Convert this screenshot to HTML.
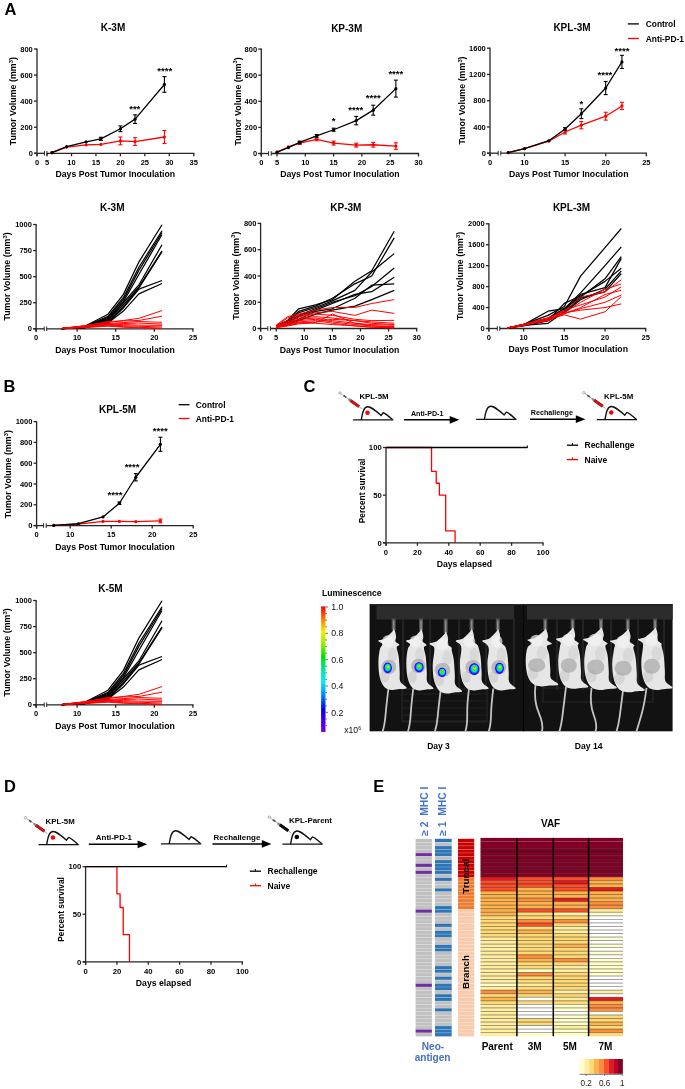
<!DOCTYPE html>
<html><head><meta charset="utf-8"><style>
html,body{margin:0;padding:0;background:#fff;width:685px;height:1089px;overflow:hidden}
svg{display:block;will-change:transform;filter:blur(0.3px)}
</style></head><body>
<svg width="685" height="1089" viewBox="0 0 685 1089" font-family='"Liberation Sans", sans-serif' font-weight="bold">
<rect width="685" height="1089" fill="#fff"/>
<text x="4.60" y="15.40" font-size="16.5">A</text>
<text x="3.40" y="392.30" font-size="16.5">B</text>
<text x="303.40" y="392.30" font-size="16.5">C</text>
<text x="4.00" y="792.20" font-size="16.5">D</text>
<text x="373.20" y="791.60" font-size="16.5">E</text>
<line x1="37.00" y1="48.40" x2="37.00" y2="156.30" stroke="#262626" stroke-width="1.3"/>
<line x1="34.00" y1="153.30" x2="37.00" y2="153.30" stroke="#262626" stroke-width="1.3"/>
<text x="32.80" y="155.90" font-size="7.5" text-anchor="end">0</text>
<line x1="34.00" y1="127.23" x2="37.00" y2="127.23" stroke="#262626" stroke-width="1.3"/>
<text x="32.80" y="129.83" font-size="7.5" text-anchor="end">200</text>
<line x1="34.00" y1="101.15" x2="37.00" y2="101.15" stroke="#262626" stroke-width="1.3"/>
<text x="32.80" y="103.75" font-size="7.5" text-anchor="end">400</text>
<line x1="34.00" y1="75.08" x2="37.00" y2="75.08" stroke="#262626" stroke-width="1.3"/>
<text x="32.80" y="77.67" font-size="7.5" text-anchor="end">600</text>
<line x1="34.00" y1="49.00" x2="37.00" y2="49.00" stroke="#262626" stroke-width="1.3"/>
<text x="32.80" y="51.60" font-size="7.5" text-anchor="end">800</text>
<line x1="34.00" y1="153.30" x2="44.40" y2="153.30" stroke="#262626" stroke-width="1.3"/>
<line x1="46.90" y1="153.30" x2="194.35" y2="153.30" stroke="#262626" stroke-width="1.3"/>
<line x1="44.40" y1="151.00" x2="44.40" y2="155.60" stroke="#262626" stroke-width="1.0"/>
<line x1="46.90" y1="151.00" x2="46.90" y2="155.60" stroke="#262626" stroke-width="1.0"/>
<line x1="37.00" y1="153.30" x2="37.00" y2="156.30" stroke="#262626" stroke-width="1.3"/>
<text x="37.00" y="164.60" font-size="7.5" text-anchor="middle">0</text>
<line x1="47.05" y1="153.30" x2="47.05" y2="156.30" stroke="#262626" stroke-width="1.3"/>
<text x="47.05" y="164.60" font-size="7.5" text-anchor="middle">5</text>
<line x1="71.50" y1="153.30" x2="71.50" y2="156.30" stroke="#262626" stroke-width="1.3"/>
<text x="71.50" y="164.60" font-size="7.5" text-anchor="middle">10</text>
<line x1="95.95" y1="153.30" x2="95.95" y2="156.30" stroke="#262626" stroke-width="1.3"/>
<text x="95.95" y="164.60" font-size="7.5" text-anchor="middle">15</text>
<line x1="120.40" y1="153.30" x2="120.40" y2="156.30" stroke="#262626" stroke-width="1.3"/>
<text x="120.40" y="164.60" font-size="7.5" text-anchor="middle">20</text>
<line x1="144.85" y1="153.30" x2="144.85" y2="156.30" stroke="#262626" stroke-width="1.3"/>
<text x="144.85" y="164.60" font-size="7.5" text-anchor="middle">25</text>
<line x1="169.30" y1="153.30" x2="169.30" y2="156.30" stroke="#262626" stroke-width="1.3"/>
<text x="169.30" y="164.60" font-size="7.5" text-anchor="middle">30</text>
<line x1="193.75" y1="153.30" x2="193.75" y2="156.30" stroke="#262626" stroke-width="1.3"/>
<text x="193.75" y="164.60" font-size="7.5" text-anchor="middle">35</text>
<text x="113.00" y="31.00" font-size="10" text-anchor="middle">K-3M</text>
<text x="115.30" y="177.10" font-size="8.7" text-anchor="middle">Days Post Tumor Inoculation</text>
<text x="16.20" y="101.20" font-size="8.9" text-anchor="middle" transform="rotate(-90 16.20 101.20)">Tumor Volume (mm<tspan font-size="5.79" dy="-3.2">3</tspan><tspan dy="3.2">)</tspan></text>
<polyline points="51.94,152.65 66.61,147.04 86.17,144.83 100.84,144.43 120.40,140.91 135.07,141.57 164.41,137.00" fill="none" stroke="#ff0000" stroke-width="1.3" stroke-linejoin="round"/>
<circle cx="51.94" cy="152.65" r="1.6" fill="#ff0000"/>
<circle cx="66.61" cy="147.04" r="1.6" fill="#ff0000"/>
<circle cx="86.17" cy="144.83" r="1.6" fill="#ff0000"/>
<circle cx="100.84" cy="144.43" r="1.6" fill="#ff0000"/>
<line x1="120.40" y1="137.00" x2="120.40" y2="144.83" stroke="#ff0000" stroke-width="1.1"/>
<line x1="118.40" y1="137.00" x2="122.40" y2="137.00" stroke="#ff0000" stroke-width="1.1"/>
<line x1="118.40" y1="144.83" x2="122.40" y2="144.83" stroke="#ff0000" stroke-width="1.1"/>
<circle cx="120.40" cy="140.91" r="1.6" fill="#ff0000"/>
<line x1="135.07" y1="137.66" x2="135.07" y2="145.48" stroke="#ff0000" stroke-width="1.1"/>
<line x1="133.07" y1="137.66" x2="137.07" y2="137.66" stroke="#ff0000" stroke-width="1.1"/>
<line x1="133.07" y1="145.48" x2="137.07" y2="145.48" stroke="#ff0000" stroke-width="1.1"/>
<circle cx="135.07" cy="141.57" r="1.6" fill="#ff0000"/>
<line x1="164.41" y1="130.48" x2="164.41" y2="143.52" stroke="#ff0000" stroke-width="1.1"/>
<line x1="162.41" y1="130.48" x2="166.41" y2="130.48" stroke="#ff0000" stroke-width="1.1"/>
<line x1="162.41" y1="143.52" x2="166.41" y2="143.52" stroke="#ff0000" stroke-width="1.1"/>
<circle cx="164.41" cy="137.00" r="1.6" fill="#ff0000"/>
<polyline points="51.94,152.65 66.61,146.65 86.17,141.83 100.84,138.83 120.40,128.79 135.07,119.14 164.41,84.46" fill="none" stroke="#000" stroke-width="1.3" stroke-linejoin="round"/>
<circle cx="51.94" cy="152.65" r="1.6" fill="#000"/>
<circle cx="66.61" cy="146.65" r="1.6" fill="#000"/>
<circle cx="86.17" cy="141.83" r="1.6" fill="#000"/>
<line x1="100.84" y1="137.26" x2="100.84" y2="140.39" stroke="#000" stroke-width="1.1"/>
<line x1="98.84" y1="137.26" x2="102.84" y2="137.26" stroke="#000" stroke-width="1.1"/>
<line x1="98.84" y1="140.39" x2="102.84" y2="140.39" stroke="#000" stroke-width="1.1"/>
<circle cx="100.84" cy="138.83" r="1.6" fill="#000"/>
<line x1="120.40" y1="125.92" x2="120.40" y2="131.66" stroke="#000" stroke-width="1.1"/>
<line x1="118.40" y1="125.92" x2="122.40" y2="125.92" stroke="#000" stroke-width="1.1"/>
<line x1="118.40" y1="131.66" x2="122.40" y2="131.66" stroke="#000" stroke-width="1.1"/>
<circle cx="120.40" cy="128.79" r="1.6" fill="#000"/>
<line x1="135.07" y1="114.84" x2="135.07" y2="123.44" stroke="#000" stroke-width="1.1"/>
<line x1="133.07" y1="114.84" x2="137.07" y2="114.84" stroke="#000" stroke-width="1.1"/>
<line x1="133.07" y1="123.44" x2="137.07" y2="123.44" stroke="#000" stroke-width="1.1"/>
<circle cx="135.07" cy="119.14" r="1.6" fill="#000"/>
<line x1="164.41" y1="76.64" x2="164.41" y2="92.28" stroke="#000" stroke-width="1.1"/>
<line x1="162.41" y1="76.64" x2="166.41" y2="76.64" stroke="#000" stroke-width="1.1"/>
<line x1="162.41" y1="92.28" x2="166.41" y2="92.28" stroke="#000" stroke-width="1.1"/>
<circle cx="164.41" cy="84.46" r="1.6" fill="#000"/>
<text x="134.77" y="111.90" font-size="9.6" text-anchor="middle">***</text>
<text x="164.71" y="73.50" font-size="9.6" text-anchor="middle">****</text>
<line x1="261.30" y1="48.50" x2="261.30" y2="156.50" stroke="#262626" stroke-width="1.3"/>
<line x1="258.30" y1="153.50" x2="261.30" y2="153.50" stroke="#262626" stroke-width="1.3"/>
<text x="257.10" y="156.10" font-size="7.5" text-anchor="end">0</text>
<line x1="258.30" y1="127.40" x2="261.30" y2="127.40" stroke="#262626" stroke-width="1.3"/>
<text x="257.10" y="130.00" font-size="7.5" text-anchor="end">200</text>
<line x1="258.30" y1="101.30" x2="261.30" y2="101.30" stroke="#262626" stroke-width="1.3"/>
<text x="257.10" y="103.90" font-size="7.5" text-anchor="end">400</text>
<line x1="258.30" y1="75.20" x2="261.30" y2="75.20" stroke="#262626" stroke-width="1.3"/>
<text x="257.10" y="77.80" font-size="7.5" text-anchor="end">600</text>
<line x1="258.30" y1="49.10" x2="261.30" y2="49.10" stroke="#262626" stroke-width="1.3"/>
<text x="257.10" y="51.70" font-size="7.5" text-anchor="end">800</text>
<line x1="258.30" y1="153.50" x2="268.60" y2="153.50" stroke="#262626" stroke-width="1.3"/>
<line x1="271.20" y1="153.50" x2="419.10" y2="153.50" stroke="#262626" stroke-width="1.3"/>
<line x1="268.60" y1="151.20" x2="268.60" y2="155.80" stroke="#262626" stroke-width="1.0"/>
<line x1="271.20" y1="151.20" x2="271.20" y2="155.80" stroke="#262626" stroke-width="1.0"/>
<line x1="261.30" y1="153.50" x2="261.30" y2="156.50" stroke="#262626" stroke-width="1.3"/>
<text x="261.30" y="164.80" font-size="7.5" text-anchor="middle">0</text>
<line x1="277.00" y1="153.50" x2="277.00" y2="156.50" stroke="#262626" stroke-width="1.3"/>
<text x="277.00" y="164.80" font-size="7.5" text-anchor="middle">5</text>
<line x1="305.30" y1="153.50" x2="305.30" y2="156.50" stroke="#262626" stroke-width="1.3"/>
<text x="305.30" y="164.80" font-size="7.5" text-anchor="middle">10</text>
<line x1="333.60" y1="153.50" x2="333.60" y2="156.50" stroke="#262626" stroke-width="1.3"/>
<text x="333.60" y="164.80" font-size="7.5" text-anchor="middle">15</text>
<line x1="361.90" y1="153.50" x2="361.90" y2="156.50" stroke="#262626" stroke-width="1.3"/>
<text x="361.90" y="164.80" font-size="7.5" text-anchor="middle">20</text>
<line x1="390.20" y1="153.50" x2="390.20" y2="156.50" stroke="#262626" stroke-width="1.3"/>
<text x="390.20" y="164.80" font-size="7.5" text-anchor="middle">25</text>
<line x1="418.50" y1="153.50" x2="418.50" y2="156.50" stroke="#262626" stroke-width="1.3"/>
<text x="418.50" y="164.80" font-size="7.5" text-anchor="middle">30</text>
<text x="346.70" y="31.70" font-size="10" text-anchor="middle">KP-3M</text>
<text x="339.90" y="177.30" font-size="8.7" text-anchor="middle">Days Post Tumor Inoculation</text>
<text x="240.60" y="101.30" font-size="8.9" text-anchor="middle" transform="rotate(-90 240.60 101.30)">Tumor Volume (mm<tspan font-size="5.79" dy="-3.2">3</tspan><tspan dy="3.2">)</tspan></text>
<polyline points="277.00,152.19 288.32,146.97 299.64,143.06 316.62,139.41 333.60,143.06 356.24,145.15 373.22,144.76 395.86,146.06" fill="none" stroke="#ff0000" stroke-width="1.3" stroke-linejoin="round"/>
<circle cx="277.00" cy="152.19" r="1.6" fill="#ff0000"/>
<circle cx="288.32" cy="146.97" r="1.6" fill="#ff0000"/>
<line x1="299.64" y1="141.75" x2="299.64" y2="144.37" stroke="#ff0000" stroke-width="1.1"/>
<line x1="297.64" y1="141.75" x2="301.64" y2="141.75" stroke="#ff0000" stroke-width="1.1"/>
<line x1="297.64" y1="144.37" x2="301.64" y2="144.37" stroke="#ff0000" stroke-width="1.1"/>
<circle cx="299.64" cy="143.06" r="1.6" fill="#ff0000"/>
<line x1="316.62" y1="138.10" x2="316.62" y2="140.71" stroke="#ff0000" stroke-width="1.1"/>
<line x1="314.62" y1="138.10" x2="318.62" y2="138.10" stroke="#ff0000" stroke-width="1.1"/>
<line x1="314.62" y1="140.71" x2="318.62" y2="140.71" stroke="#ff0000" stroke-width="1.1"/>
<circle cx="316.62" cy="139.41" r="1.6" fill="#ff0000"/>
<line x1="333.60" y1="141.10" x2="333.60" y2="145.02" stroke="#ff0000" stroke-width="1.1"/>
<line x1="331.60" y1="141.10" x2="335.60" y2="141.10" stroke="#ff0000" stroke-width="1.1"/>
<line x1="331.60" y1="145.02" x2="335.60" y2="145.02" stroke="#ff0000" stroke-width="1.1"/>
<circle cx="333.60" cy="143.06" r="1.6" fill="#ff0000"/>
<line x1="356.24" y1="143.19" x2="356.24" y2="147.11" stroke="#ff0000" stroke-width="1.1"/>
<line x1="354.24" y1="143.19" x2="358.24" y2="143.19" stroke="#ff0000" stroke-width="1.1"/>
<line x1="354.24" y1="147.11" x2="358.24" y2="147.11" stroke="#ff0000" stroke-width="1.1"/>
<circle cx="356.24" cy="145.15" r="1.6" fill="#ff0000"/>
<line x1="373.22" y1="142.41" x2="373.22" y2="147.11" stroke="#ff0000" stroke-width="1.1"/>
<line x1="371.22" y1="142.41" x2="375.22" y2="142.41" stroke="#ff0000" stroke-width="1.1"/>
<line x1="371.22" y1="147.11" x2="375.22" y2="147.11" stroke="#ff0000" stroke-width="1.1"/>
<circle cx="373.22" cy="144.76" r="1.6" fill="#ff0000"/>
<line x1="395.86" y1="142.80" x2="395.86" y2="149.32" stroke="#ff0000" stroke-width="1.1"/>
<line x1="393.86" y1="142.80" x2="397.86" y2="142.80" stroke="#ff0000" stroke-width="1.1"/>
<line x1="393.86" y1="149.32" x2="397.86" y2="149.32" stroke="#ff0000" stroke-width="1.1"/>
<circle cx="395.86" cy="146.06" r="1.6" fill="#ff0000"/>
<polyline points="277.00,152.19 288.32,147.63 299.64,142.41 316.62,135.88 333.60,129.75 356.24,120.61 373.22,110.17 395.86,88.64" fill="none" stroke="#000" stroke-width="1.3" stroke-linejoin="round"/>
<circle cx="277.00" cy="152.19" r="1.6" fill="#000"/>
<circle cx="288.32" cy="147.63" r="1.6" fill="#000"/>
<line x1="299.64" y1="141.10" x2="299.64" y2="143.71" stroke="#000" stroke-width="1.1"/>
<line x1="297.64" y1="141.10" x2="301.64" y2="141.10" stroke="#000" stroke-width="1.1"/>
<line x1="297.64" y1="143.71" x2="301.64" y2="143.71" stroke="#000" stroke-width="1.1"/>
<circle cx="299.64" cy="142.41" r="1.6" fill="#000"/>
<line x1="316.62" y1="134.58" x2="316.62" y2="137.19" stroke="#000" stroke-width="1.1"/>
<line x1="314.62" y1="134.58" x2="318.62" y2="134.58" stroke="#000" stroke-width="1.1"/>
<line x1="314.62" y1="137.19" x2="318.62" y2="137.19" stroke="#000" stroke-width="1.1"/>
<circle cx="316.62" cy="135.88" r="1.6" fill="#000"/>
<line x1="333.60" y1="128.18" x2="333.60" y2="131.31" stroke="#000" stroke-width="1.1"/>
<line x1="331.60" y1="128.18" x2="335.60" y2="128.18" stroke="#000" stroke-width="1.1"/>
<line x1="331.60" y1="131.31" x2="335.60" y2="131.31" stroke="#000" stroke-width="1.1"/>
<circle cx="333.60" cy="129.75" r="1.6" fill="#000"/>
<line x1="356.24" y1="116.44" x2="356.24" y2="124.79" stroke="#000" stroke-width="1.1"/>
<line x1="354.24" y1="116.44" x2="358.24" y2="116.44" stroke="#000" stroke-width="1.1"/>
<line x1="354.24" y1="124.79" x2="358.24" y2="124.79" stroke="#000" stroke-width="1.1"/>
<circle cx="356.24" cy="120.61" r="1.6" fill="#000"/>
<line x1="373.22" y1="105.22" x2="373.22" y2="115.13" stroke="#000" stroke-width="1.1"/>
<line x1="371.22" y1="105.22" x2="375.22" y2="105.22" stroke="#000" stroke-width="1.1"/>
<line x1="371.22" y1="115.13" x2="375.22" y2="115.13" stroke="#000" stroke-width="1.1"/>
<circle cx="373.22" cy="110.17" r="1.6" fill="#000"/>
<line x1="395.86" y1="80.16" x2="395.86" y2="97.12" stroke="#000" stroke-width="1.1"/>
<line x1="393.86" y1="80.16" x2="397.86" y2="80.16" stroke="#000" stroke-width="1.1"/>
<line x1="393.86" y1="97.12" x2="397.86" y2="97.12" stroke="#000" stroke-width="1.1"/>
<circle cx="395.86" cy="88.64" r="1.6" fill="#000"/>
<text x="333.60" y="124.30" font-size="9.6" text-anchor="middle">*</text>
<text x="355.84" y="113.20" font-size="9.6" text-anchor="middle">****</text>
<text x="373.22" y="101.10" font-size="9.6" text-anchor="middle">****</text>
<text x="395.86" y="76.60" font-size="9.6" text-anchor="middle">****</text>
<line x1="490.00" y1="47.60" x2="490.00" y2="156.20" stroke="#262626" stroke-width="1.3"/>
<line x1="487.00" y1="153.20" x2="490.00" y2="153.20" stroke="#262626" stroke-width="1.3"/>
<text x="485.80" y="155.80" font-size="7.5" text-anchor="end">0</text>
<line x1="487.00" y1="126.95" x2="490.00" y2="126.95" stroke="#262626" stroke-width="1.3"/>
<text x="485.80" y="129.55" font-size="7.5" text-anchor="end">400</text>
<line x1="487.00" y1="100.70" x2="490.00" y2="100.70" stroke="#262626" stroke-width="1.3"/>
<text x="485.80" y="103.30" font-size="7.5" text-anchor="end">800</text>
<line x1="487.00" y1="74.45" x2="490.00" y2="74.45" stroke="#262626" stroke-width="1.3"/>
<text x="485.80" y="77.05" font-size="7.5" text-anchor="end">1200</text>
<line x1="487.00" y1="48.20" x2="490.00" y2="48.20" stroke="#262626" stroke-width="1.3"/>
<text x="485.80" y="50.80" font-size="7.5" text-anchor="end">1600</text>
<line x1="487.00" y1="153.20" x2="498.20" y2="153.20" stroke="#262626" stroke-width="1.3"/>
<line x1="500.80" y1="153.20" x2="646.90" y2="153.20" stroke="#262626" stroke-width="1.3"/>
<line x1="498.20" y1="150.90" x2="498.20" y2="155.50" stroke="#262626" stroke-width="1.0"/>
<line x1="500.80" y1="150.90" x2="500.80" y2="155.50" stroke="#262626" stroke-width="1.0"/>
<line x1="490.00" y1="153.20" x2="490.00" y2="156.20" stroke="#262626" stroke-width="1.3"/>
<text x="490.00" y="164.50" font-size="7.5" text-anchor="middle">0</text>
<line x1="524.50" y1="153.20" x2="524.50" y2="156.20" stroke="#262626" stroke-width="1.3"/>
<text x="524.50" y="164.50" font-size="7.5" text-anchor="middle">10</text>
<line x1="565.10" y1="153.20" x2="565.10" y2="156.20" stroke="#262626" stroke-width="1.3"/>
<text x="565.10" y="164.50" font-size="7.5" text-anchor="middle">15</text>
<line x1="605.70" y1="153.20" x2="605.70" y2="156.20" stroke="#262626" stroke-width="1.3"/>
<text x="605.70" y="164.50" font-size="7.5" text-anchor="middle">20</text>
<line x1="646.30" y1="153.20" x2="646.30" y2="156.20" stroke="#262626" stroke-width="1.3"/>
<text x="646.30" y="164.50" font-size="7.5" text-anchor="middle">25</text>
<text x="572.00" y="31.30" font-size="10" text-anchor="middle">KPL-3M</text>
<text x="568.70" y="177.10" font-size="8.7" text-anchor="middle">Days Post Tumor Inoculation</text>
<text x="464.80" y="100.50" font-size="8.9" text-anchor="middle" transform="rotate(-90 464.80 100.50)">Tumor Volume (mm<tspan font-size="5.79" dy="-3.2">3</tspan><tspan dy="3.2">)</tspan></text>
<polyline points="508.26,152.54 524.50,148.74 548.86,141.06 565.10,132.00 581.34,125.18 605.70,116.19 621.94,105.95" fill="none" stroke="#ff0000" stroke-width="1.3" stroke-linejoin="round"/>
<circle cx="508.26" cy="152.54" r="1.6" fill="#ff0000"/>
<circle cx="524.50" cy="148.74" r="1.6" fill="#ff0000"/>
<circle cx="548.86" cy="141.06" r="1.6" fill="#ff0000"/>
<line x1="565.10" y1="130.03" x2="565.10" y2="133.97" stroke="#ff0000" stroke-width="1.1"/>
<line x1="563.10" y1="130.03" x2="567.10" y2="130.03" stroke="#ff0000" stroke-width="1.1"/>
<line x1="563.10" y1="133.97" x2="567.10" y2="133.97" stroke="#ff0000" stroke-width="1.1"/>
<circle cx="565.10" cy="132.00" r="1.6" fill="#ff0000"/>
<line x1="581.34" y1="121.57" x2="581.34" y2="128.79" stroke="#ff0000" stroke-width="1.1"/>
<line x1="579.34" y1="121.57" x2="583.34" y2="121.57" stroke="#ff0000" stroke-width="1.1"/>
<line x1="579.34" y1="128.79" x2="583.34" y2="128.79" stroke="#ff0000" stroke-width="1.1"/>
<circle cx="581.34" cy="125.18" r="1.6" fill="#ff0000"/>
<line x1="605.70" y1="112.25" x2="605.70" y2="120.12" stroke="#ff0000" stroke-width="1.1"/>
<line x1="603.70" y1="112.25" x2="607.70" y2="112.25" stroke="#ff0000" stroke-width="1.1"/>
<line x1="603.70" y1="120.12" x2="607.70" y2="120.12" stroke="#ff0000" stroke-width="1.1"/>
<circle cx="605.70" cy="116.19" r="1.6" fill="#ff0000"/>
<line x1="621.94" y1="102.34" x2="621.94" y2="109.56" stroke="#ff0000" stroke-width="1.1"/>
<line x1="619.94" y1="102.34" x2="623.94" y2="102.34" stroke="#ff0000" stroke-width="1.1"/>
<line x1="619.94" y1="109.56" x2="623.94" y2="109.56" stroke="#ff0000" stroke-width="1.1"/>
<circle cx="621.94" cy="105.95" r="1.6" fill="#ff0000"/>
<polyline points="508.26,152.54 524.50,148.61 548.86,140.73 565.10,128.98 581.34,113.69 605.70,88.03 621.94,61.92" fill="none" stroke="#000" stroke-width="1.3" stroke-linejoin="round"/>
<circle cx="508.26" cy="152.54" r="1.6" fill="#000"/>
<circle cx="524.50" cy="148.61" r="1.6" fill="#000"/>
<circle cx="548.86" cy="140.73" r="1.6" fill="#000"/>
<line x1="565.10" y1="127.67" x2="565.10" y2="130.30" stroke="#000" stroke-width="1.1"/>
<line x1="563.10" y1="127.67" x2="567.10" y2="127.67" stroke="#000" stroke-width="1.1"/>
<line x1="563.10" y1="130.30" x2="567.10" y2="130.30" stroke="#000" stroke-width="1.1"/>
<circle cx="565.10" cy="128.98" r="1.6" fill="#000"/>
<line x1="581.34" y1="108.77" x2="581.34" y2="118.62" stroke="#000" stroke-width="1.1"/>
<line x1="579.34" y1="108.77" x2="583.34" y2="108.77" stroke="#000" stroke-width="1.1"/>
<line x1="579.34" y1="118.62" x2="583.34" y2="118.62" stroke="#000" stroke-width="1.1"/>
<circle cx="581.34" cy="113.69" r="1.6" fill="#000"/>
<line x1="605.70" y1="81.47" x2="605.70" y2="94.60" stroke="#000" stroke-width="1.1"/>
<line x1="603.70" y1="81.47" x2="607.70" y2="81.47" stroke="#000" stroke-width="1.1"/>
<line x1="603.70" y1="94.60" x2="607.70" y2="94.60" stroke="#000" stroke-width="1.1"/>
<circle cx="605.70" cy="88.03" r="1.6" fill="#000"/>
<line x1="621.94" y1="55.35" x2="621.94" y2="68.48" stroke="#000" stroke-width="1.1"/>
<line x1="619.94" y1="55.35" x2="623.94" y2="55.35" stroke="#000" stroke-width="1.1"/>
<line x1="619.94" y1="68.48" x2="623.94" y2="68.48" stroke="#000" stroke-width="1.1"/>
<circle cx="621.94" cy="61.92" r="1.6" fill="#000"/>
<text x="581.34" y="106.90" font-size="9.6" text-anchor="middle">*</text>
<text x="604.90" y="77.90" font-size="9.6" text-anchor="middle">****</text>
<text x="621.94" y="53.70" font-size="9.6" text-anchor="middle">****</text>
<line x1="627.80" y1="23.90" x2="638.90" y2="23.90" stroke="#000" stroke-width="1.3"/>
<text x="645.80" y="27.30" font-size="8.4">Control</text>
<line x1="627.80" y1="38.50" x2="638.90" y2="38.50" stroke="#ff0000" stroke-width="1.3"/>
<text x="645.80" y="41.90" font-size="8.4">Anti-PD-1</text>
<line x1="36.10" y1="223.90" x2="36.10" y2="331.80" stroke="#262626" stroke-width="1.3"/>
<line x1="33.10" y1="328.80" x2="36.10" y2="328.80" stroke="#262626" stroke-width="1.3"/>
<text x="31.90" y="331.40" font-size="7.5" text-anchor="end">0</text>
<line x1="33.10" y1="302.73" x2="36.10" y2="302.73" stroke="#262626" stroke-width="1.3"/>
<text x="31.90" y="305.33" font-size="7.5" text-anchor="end">250</text>
<line x1="33.10" y1="276.65" x2="36.10" y2="276.65" stroke="#262626" stroke-width="1.3"/>
<text x="31.90" y="279.25" font-size="7.5" text-anchor="end">500</text>
<line x1="33.10" y1="250.57" x2="36.10" y2="250.57" stroke="#262626" stroke-width="1.3"/>
<text x="31.90" y="253.17" font-size="7.5" text-anchor="end">750</text>
<line x1="33.10" y1="224.50" x2="36.10" y2="224.50" stroke="#262626" stroke-width="1.3"/>
<text x="31.90" y="227.10" font-size="7.5" text-anchor="end">1000</text>
<line x1="33.10" y1="328.80" x2="44.20" y2="328.80" stroke="#262626" stroke-width="1.3"/>
<line x1="46.70" y1="328.80" x2="193.50" y2="328.80" stroke="#262626" stroke-width="1.3"/>
<line x1="44.20" y1="326.50" x2="44.20" y2="331.10" stroke="#262626" stroke-width="1.0"/>
<line x1="46.70" y1="326.50" x2="46.70" y2="331.10" stroke="#262626" stroke-width="1.0"/>
<line x1="36.10" y1="328.80" x2="36.10" y2="331.80" stroke="#262626" stroke-width="1.3"/>
<text x="36.10" y="340.10" font-size="7.5" text-anchor="middle">0</text>
<line x1="77.10" y1="328.80" x2="77.10" y2="331.80" stroke="#262626" stroke-width="1.3"/>
<text x="77.10" y="340.10" font-size="7.5" text-anchor="middle">10</text>
<line x1="115.70" y1="328.80" x2="115.70" y2="331.80" stroke="#262626" stroke-width="1.3"/>
<text x="115.70" y="340.10" font-size="7.5" text-anchor="middle">15</text>
<line x1="154.30" y1="328.80" x2="154.30" y2="331.80" stroke="#262626" stroke-width="1.3"/>
<text x="154.30" y="340.10" font-size="7.5" text-anchor="middle">20</text>
<line x1="192.90" y1="328.80" x2="192.90" y2="331.80" stroke="#262626" stroke-width="1.3"/>
<text x="192.90" y="340.10" font-size="7.5" text-anchor="middle">25</text>
<text x="112.30" y="210.60" font-size="10" text-anchor="middle">K-3M</text>
<text x="115.00" y="352.90" font-size="8.7" text-anchor="middle">Days Post Tumor Inoculation</text>
<text x="10.20" y="276.50" font-size="8.9" text-anchor="middle" transform="rotate(-90 10.20 276.50)">Tumor Volume (mm<tspan font-size="5.79" dy="-3.2">3</tspan><tspan dy="3.2">)</tspan></text>
<polyline points="61.66,328.59 84.82,326.19 107.98,314.20 123.42,294.38 138.86,262.05 162.02,224.71" fill="none" stroke="#000" stroke-width="1.25" stroke-linejoin="round"/>
<polyline points="61.66,328.59 84.82,326.51 107.98,316.28 123.42,297.51 138.86,267.26 162.02,230.76" fill="none" stroke="#000" stroke-width="1.25" stroke-linejoin="round"/>
<polyline points="61.66,328.70 84.82,326.71 107.98,317.33 123.42,299.60 138.86,270.39 162.02,232.53" fill="none" stroke="#000" stroke-width="1.25" stroke-linejoin="round"/>
<polyline points="61.66,328.70 84.82,326.92 107.98,318.37 123.42,301.68 138.86,274.56 162.02,234.51" fill="none" stroke="#000" stroke-width="1.25" stroke-linejoin="round"/>
<polyline points="61.66,328.70 84.82,327.24 107.98,319.41 123.42,302.73 138.86,284.99 162.02,244.73" fill="none" stroke="#000" stroke-width="1.25" stroke-linejoin="round"/>
<polyline points="61.66,328.70 84.82,327.24 107.98,320.46 123.42,304.81 138.86,287.08 162.02,250.89" fill="none" stroke="#000" stroke-width="1.25" stroke-linejoin="round"/>
<polyline points="61.66,328.70 84.82,327.55 107.98,321.50 123.42,306.90 138.86,288.12 162.02,251.62" fill="none" stroke="#000" stroke-width="1.25" stroke-linejoin="round"/>
<polyline points="61.66,328.70 84.82,327.55 107.98,322.54 123.42,307.94 138.86,289.17 162.02,280.51" fill="none" stroke="#000" stroke-width="1.25" stroke-linejoin="round"/>
<polyline points="61.66,328.70 84.82,327.76 107.98,323.06 123.42,311.07 138.86,293.86 162.02,283.53" fill="none" stroke="#000" stroke-width="1.25" stroke-linejoin="round"/>
<polyline points="61.66,328.49 84.82,325.67 107.98,322.54 123.42,320.46 138.86,318.37 162.02,310.55" fill="none" stroke="#ff0000" stroke-width="1.0" stroke-linejoin="round"/>
<polyline points="61.66,328.49 84.82,325.88 107.98,321.50 123.42,320.98 138.86,320.46 162.02,316.18" fill="none" stroke="#ff0000" stroke-width="1.0" stroke-linejoin="round"/>
<polyline points="61.66,328.59 84.82,326.19 107.98,323.59 123.42,322.54 138.86,321.50 162.02,322.33" fill="none" stroke="#ff0000" stroke-width="1.0" stroke-linejoin="round"/>
<polyline points="61.66,328.59 84.82,326.51 107.98,324.11 123.42,323.59 138.86,323.06 162.02,324.11" fill="none" stroke="#ff0000" stroke-width="1.0" stroke-linejoin="round"/>
<polyline points="61.66,328.59 84.82,326.71 107.98,324.63 123.42,324.63 138.86,325.15 162.02,325.36" fill="none" stroke="#ff0000" stroke-width="1.0" stroke-linejoin="round"/>
<polyline points="61.66,328.59 84.82,326.92 107.98,325.15 123.42,325.67 138.86,326.19 162.02,327.03" fill="none" stroke="#ff0000" stroke-width="1.0" stroke-linejoin="round"/>
<polyline points="61.66,328.70 84.82,327.24 107.98,325.67 123.42,326.71 138.86,327.24 162.02,328.28" fill="none" stroke="#ff0000" stroke-width="1.0" stroke-linejoin="round"/>
<polyline points="61.66,328.70 84.82,327.55 107.98,326.19 123.42,327.24 138.86,327.76 162.02,328.49" fill="none" stroke="#ff0000" stroke-width="1.0" stroke-linejoin="round"/>
<line x1="36.10" y1="599.90" x2="36.10" y2="707.80" stroke="#262626" stroke-width="1.3"/>
<line x1="33.10" y1="704.80" x2="36.10" y2="704.80" stroke="#262626" stroke-width="1.3"/>
<text x="31.90" y="707.40" font-size="7.5" text-anchor="end">0</text>
<line x1="33.10" y1="678.72" x2="36.10" y2="678.72" stroke="#262626" stroke-width="1.3"/>
<text x="31.90" y="681.32" font-size="7.5" text-anchor="end">250</text>
<line x1="33.10" y1="652.65" x2="36.10" y2="652.65" stroke="#262626" stroke-width="1.3"/>
<text x="31.90" y="655.25" font-size="7.5" text-anchor="end">500</text>
<line x1="33.10" y1="626.58" x2="36.10" y2="626.58" stroke="#262626" stroke-width="1.3"/>
<text x="31.90" y="629.18" font-size="7.5" text-anchor="end">750</text>
<line x1="33.10" y1="600.50" x2="36.10" y2="600.50" stroke="#262626" stroke-width="1.3"/>
<text x="31.90" y="603.10" font-size="7.5" text-anchor="end">1000</text>
<line x1="33.10" y1="704.80" x2="44.20" y2="704.80" stroke="#262626" stroke-width="1.3"/>
<line x1="46.70" y1="704.80" x2="193.50" y2="704.80" stroke="#262626" stroke-width="1.3"/>
<line x1="44.20" y1="702.50" x2="44.20" y2="707.10" stroke="#262626" stroke-width="1.0"/>
<line x1="46.70" y1="702.50" x2="46.70" y2="707.10" stroke="#262626" stroke-width="1.0"/>
<line x1="36.10" y1="704.80" x2="36.10" y2="707.80" stroke="#262626" stroke-width="1.3"/>
<text x="36.10" y="716.10" font-size="7.5" text-anchor="middle">0</text>
<line x1="77.10" y1="704.80" x2="77.10" y2="707.80" stroke="#262626" stroke-width="1.3"/>
<text x="77.10" y="716.10" font-size="7.5" text-anchor="middle">10</text>
<line x1="115.70" y1="704.80" x2="115.70" y2="707.80" stroke="#262626" stroke-width="1.3"/>
<text x="115.70" y="716.10" font-size="7.5" text-anchor="middle">15</text>
<line x1="154.30" y1="704.80" x2="154.30" y2="707.80" stroke="#262626" stroke-width="1.3"/>
<text x="154.30" y="716.10" font-size="7.5" text-anchor="middle">20</text>
<line x1="192.90" y1="704.80" x2="192.90" y2="707.80" stroke="#262626" stroke-width="1.3"/>
<text x="192.90" y="716.10" font-size="7.5" text-anchor="middle">25</text>
<text x="110.40" y="591.80" font-size="10" text-anchor="middle">K-5M</text>
<text x="115.00" y="728.90" font-size="8.7" text-anchor="middle">Days Post Tumor Inoculation</text>
<text x="10.20" y="652.50" font-size="8.9" text-anchor="middle" transform="rotate(-90 10.20 652.50)">Tumor Volume (mm<tspan font-size="5.79" dy="-3.2">3</tspan><tspan dy="3.2">)</tspan></text>
<polyline points="61.66,704.59 84.82,702.19 107.98,690.20 123.42,670.38 138.86,638.05 162.02,600.71" fill="none" stroke="#000" stroke-width="1.25" stroke-linejoin="round"/>
<polyline points="61.66,704.59 84.82,702.51 107.98,692.28 123.42,673.51 138.86,643.26 162.02,606.76" fill="none" stroke="#000" stroke-width="1.25" stroke-linejoin="round"/>
<polyline points="61.66,704.70 84.82,702.71 107.98,693.33 123.42,675.60 138.86,646.39 162.02,608.53" fill="none" stroke="#000" stroke-width="1.25" stroke-linejoin="round"/>
<polyline points="61.66,704.70 84.82,702.92 107.98,694.37 123.42,677.68 138.86,650.56 162.02,610.51" fill="none" stroke="#000" stroke-width="1.25" stroke-linejoin="round"/>
<polyline points="61.66,704.70 84.82,703.24 107.98,695.41 123.42,678.72 138.86,660.99 162.02,620.73" fill="none" stroke="#000" stroke-width="1.25" stroke-linejoin="round"/>
<polyline points="61.66,704.70 84.82,703.24 107.98,696.46 123.42,680.81 138.86,663.08 162.02,626.89" fill="none" stroke="#000" stroke-width="1.25" stroke-linejoin="round"/>
<polyline points="61.66,704.70 84.82,703.55 107.98,697.50 123.42,682.90 138.86,664.12 162.02,627.62" fill="none" stroke="#000" stroke-width="1.25" stroke-linejoin="round"/>
<polyline points="61.66,704.70 84.82,703.55 107.98,698.54 123.42,683.94 138.86,665.17 162.02,656.51" fill="none" stroke="#000" stroke-width="1.25" stroke-linejoin="round"/>
<polyline points="61.66,704.70 84.82,703.76 107.98,699.06 123.42,687.07 138.86,669.86 162.02,659.53" fill="none" stroke="#000" stroke-width="1.25" stroke-linejoin="round"/>
<polyline points="61.66,704.49 84.82,701.67 107.98,698.54 123.42,696.46 138.86,694.37 162.02,686.55" fill="none" stroke="#ff0000" stroke-width="1.0" stroke-linejoin="round"/>
<polyline points="61.66,704.49 84.82,701.88 107.98,697.50 123.42,696.98 138.86,696.46 162.02,692.18" fill="none" stroke="#ff0000" stroke-width="1.0" stroke-linejoin="round"/>
<polyline points="61.66,704.59 84.82,702.19 107.98,699.58 123.42,698.54 138.86,697.50 162.02,698.33" fill="none" stroke="#ff0000" stroke-width="1.0" stroke-linejoin="round"/>
<polyline points="61.66,704.59 84.82,702.51 107.98,700.11 123.42,699.58 138.86,699.06 162.02,700.11" fill="none" stroke="#ff0000" stroke-width="1.0" stroke-linejoin="round"/>
<polyline points="61.66,704.59 84.82,702.71 107.98,700.63 123.42,700.63 138.86,701.15 162.02,701.36" fill="none" stroke="#ff0000" stroke-width="1.0" stroke-linejoin="round"/>
<polyline points="61.66,704.59 84.82,702.92 107.98,701.15 123.42,701.67 138.86,702.19 162.02,703.03" fill="none" stroke="#ff0000" stroke-width="1.0" stroke-linejoin="round"/>
<polyline points="61.66,704.70 84.82,703.24 107.98,701.67 123.42,702.71 138.86,703.24 162.02,704.28" fill="none" stroke="#ff0000" stroke-width="1.0" stroke-linejoin="round"/>
<polyline points="61.66,704.70 84.82,703.55 107.98,702.19 123.42,703.24 138.86,703.76 162.02,704.49" fill="none" stroke="#ff0000" stroke-width="1.0" stroke-linejoin="round"/>
<line x1="260.60" y1="222.80" x2="260.60" y2="331.50" stroke="#262626" stroke-width="1.3"/>
<line x1="257.60" y1="328.50" x2="260.60" y2="328.50" stroke="#262626" stroke-width="1.3"/>
<text x="256.40" y="331.10" font-size="7.5" text-anchor="end">0</text>
<line x1="257.60" y1="302.23" x2="260.60" y2="302.23" stroke="#262626" stroke-width="1.3"/>
<text x="256.40" y="304.83" font-size="7.5" text-anchor="end">200</text>
<line x1="257.60" y1="275.95" x2="260.60" y2="275.95" stroke="#262626" stroke-width="1.3"/>
<text x="256.40" y="278.55" font-size="7.5" text-anchor="end">400</text>
<line x1="257.60" y1="249.68" x2="260.60" y2="249.68" stroke="#262626" stroke-width="1.3"/>
<text x="256.40" y="252.28" font-size="7.5" text-anchor="end">600</text>
<line x1="257.60" y1="223.40" x2="260.60" y2="223.40" stroke="#262626" stroke-width="1.3"/>
<text x="256.40" y="226.00" font-size="7.5" text-anchor="end">800</text>
<line x1="257.60" y1="328.50" x2="267.80" y2="328.50" stroke="#262626" stroke-width="1.3"/>
<line x1="270.40" y1="328.50" x2="417.30" y2="328.50" stroke="#262626" stroke-width="1.3"/>
<line x1="267.80" y1="326.20" x2="267.80" y2="330.80" stroke="#262626" stroke-width="1.0"/>
<line x1="270.40" y1="326.20" x2="270.40" y2="330.80" stroke="#262626" stroke-width="1.0"/>
<line x1="260.60" y1="328.50" x2="260.60" y2="331.50" stroke="#262626" stroke-width="1.3"/>
<text x="260.60" y="339.80" font-size="7.5" text-anchor="middle">0</text>
<line x1="276.20" y1="328.50" x2="276.20" y2="331.50" stroke="#262626" stroke-width="1.3"/>
<text x="276.20" y="339.80" font-size="7.5" text-anchor="middle">5</text>
<line x1="304.30" y1="328.50" x2="304.30" y2="331.50" stroke="#262626" stroke-width="1.3"/>
<text x="304.30" y="339.80" font-size="7.5" text-anchor="middle">10</text>
<line x1="332.40" y1="328.50" x2="332.40" y2="331.50" stroke="#262626" stroke-width="1.3"/>
<text x="332.40" y="339.80" font-size="7.5" text-anchor="middle">15</text>
<line x1="360.50" y1="328.50" x2="360.50" y2="331.50" stroke="#262626" stroke-width="1.3"/>
<text x="360.50" y="339.80" font-size="7.5" text-anchor="middle">20</text>
<line x1="388.60" y1="328.50" x2="388.60" y2="331.50" stroke="#262626" stroke-width="1.3"/>
<text x="388.60" y="339.80" font-size="7.5" text-anchor="middle">25</text>
<line x1="416.70" y1="328.50" x2="416.70" y2="331.50" stroke="#262626" stroke-width="1.3"/>
<text x="416.70" y="339.80" font-size="7.5" text-anchor="middle">30</text>
<text x="345.80" y="211.20" font-size="10" text-anchor="middle">KP-3M</text>
<text x="339.50" y="353.10" font-size="8.7" text-anchor="middle">Days Post Tumor Inoculation</text>
<text x="238.70" y="275.70" font-size="8.9" text-anchor="middle" transform="rotate(-90 238.70 275.70)">Tumor Volume (mm<tspan font-size="5.79" dy="-3.2">3</tspan><tspan dy="3.2">)</tspan></text>
<polyline points="276.20,325.87 287.44,320.62 298.68,308.79 315.54,304.85 332.40,299.60 354.88,281.20 371.74,270.69 394.22,231.28" fill="none" stroke="#000" stroke-width="1.25" stroke-linejoin="round"/>
<polyline points="276.20,325.87 287.44,321.27 298.68,311.42 315.54,306.17 332.40,298.28 354.88,283.83 371.74,275.95 394.22,237.85" fill="none" stroke="#000" stroke-width="1.25" stroke-linejoin="round"/>
<polyline points="276.20,326.14 287.44,321.93 298.68,312.74 315.54,307.48 332.40,300.91 354.88,290.40 371.74,272.01 394.22,253.62" fill="none" stroke="#000" stroke-width="1.25" stroke-linejoin="round"/>
<polyline points="276.20,326.53 287.44,322.59 298.68,315.36 315.54,308.79 332.40,302.23 354.88,295.66 371.74,286.46 394.22,268.07" fill="none" stroke="#000" stroke-width="1.25" stroke-linejoin="round"/>
<polyline points="276.20,326.53 287.44,323.25 298.68,316.68 315.54,310.11 332.40,303.54 354.88,294.34 371.74,291.72 394.22,277.26" fill="none" stroke="#000" stroke-width="1.25" stroke-linejoin="round"/>
<polyline points="276.20,326.92 287.44,323.90 298.68,319.30 315.54,311.42 332.40,308.79 354.88,298.28 371.74,285.15 394.22,283.83" fill="none" stroke="#000" stroke-width="1.25" stroke-linejoin="round"/>
<polyline points="276.20,327.19 287.44,324.56 298.68,320.62 315.54,314.05 332.40,310.11 354.88,306.17 371.74,299.60 394.22,290.40" fill="none" stroke="#000" stroke-width="1.25" stroke-linejoin="round"/>
<polyline points="276.20,325.22 287.44,316.68 298.68,314.05 315.54,310.11 332.40,307.48 354.88,307.48 371.74,303.54 394.22,299.60" fill="none" stroke="#ff0000" stroke-width="1.0" stroke-linejoin="round"/>
<polyline points="276.20,325.87 287.44,317.99 298.68,315.36 315.54,312.74 332.40,311.42 354.88,315.36 371.74,310.11 394.22,313.39" fill="none" stroke="#ff0000" stroke-width="1.0" stroke-linejoin="round"/>
<polyline points="276.20,325.87 287.44,320.62 298.68,316.68 315.54,314.05 332.40,315.36 354.88,319.30 371.74,320.62 394.22,320.35" fill="none" stroke="#ff0000" stroke-width="1.0" stroke-linejoin="round"/>
<polyline points="276.20,326.53 287.44,321.93 298.68,317.99 315.54,316.68 332.40,317.99 354.88,320.62 371.74,321.93 394.22,323.25" fill="none" stroke="#ff0000" stroke-width="1.0" stroke-linejoin="round"/>
<polyline points="276.20,326.53 287.44,323.25 298.68,319.30 315.54,317.99 332.40,320.62 354.88,323.25 371.74,324.56 394.22,325.22" fill="none" stroke="#ff0000" stroke-width="1.0" stroke-linejoin="round"/>
<polyline points="276.20,326.92 287.44,323.90 298.68,320.62 315.54,319.30 332.40,321.93 354.88,324.56 371.74,325.87 394.22,327.19" fill="none" stroke="#ff0000" stroke-width="1.0" stroke-linejoin="round"/>
<polyline points="276.20,327.19 287.44,324.56 298.68,321.93 315.54,320.62 332.40,323.25 354.88,325.87 371.74,327.19 394.22,327.84" fill="none" stroke="#ff0000" stroke-width="1.0" stroke-linejoin="round"/>
<polyline points="276.20,327.19 287.44,325.22 298.68,322.59 315.54,323.25 332.40,324.56 354.88,325.87 371.74,327.19 394.22,327.84" fill="none" stroke="#ff0000" stroke-width="1.0" stroke-linejoin="round"/>
<polyline points="276.20,327.45 287.44,325.87 298.68,323.25 315.54,321.93 332.40,319.30 354.88,320.62 371.74,323.25 394.22,324.56" fill="none" stroke="#ff0000" stroke-width="1.0" stroke-linejoin="round"/>
<polyline points="276.20,327.45 287.44,325.87 298.68,323.90 315.54,322.59 332.40,314.05 354.88,323.25 371.74,325.87 394.22,326.53" fill="none" stroke="#ff0000" stroke-width="1.0" stroke-linejoin="round"/>
<line x1="488.90" y1="223.20" x2="488.90" y2="331.50" stroke="#262626" stroke-width="1.3"/>
<line x1="485.90" y1="328.50" x2="488.90" y2="328.50" stroke="#262626" stroke-width="1.3"/>
<text x="484.70" y="331.10" font-size="7.5" text-anchor="end">0</text>
<line x1="485.90" y1="307.56" x2="488.90" y2="307.56" stroke="#262626" stroke-width="1.3"/>
<text x="484.70" y="310.16" font-size="7.5" text-anchor="end">400</text>
<line x1="485.90" y1="286.62" x2="488.90" y2="286.62" stroke="#262626" stroke-width="1.3"/>
<text x="484.70" y="289.22" font-size="7.5" text-anchor="end">800</text>
<line x1="485.90" y1="265.68" x2="488.90" y2="265.68" stroke="#262626" stroke-width="1.3"/>
<text x="484.70" y="268.28" font-size="7.5" text-anchor="end">1200</text>
<line x1="485.90" y1="244.74" x2="488.90" y2="244.74" stroke="#262626" stroke-width="1.3"/>
<text x="484.70" y="247.34" font-size="7.5" text-anchor="end">1600</text>
<line x1="485.90" y1="223.80" x2="488.90" y2="223.80" stroke="#262626" stroke-width="1.3"/>
<text x="484.70" y="226.40" font-size="7.5" text-anchor="end">2000</text>
<line x1="485.90" y1="328.50" x2="497.30" y2="328.50" stroke="#262626" stroke-width="1.3"/>
<line x1="499.80" y1="328.50" x2="646.30" y2="328.50" stroke="#262626" stroke-width="1.3"/>
<line x1="497.30" y1="326.20" x2="497.30" y2="330.80" stroke="#262626" stroke-width="1.0"/>
<line x1="499.80" y1="326.20" x2="499.80" y2="330.80" stroke="#262626" stroke-width="1.0"/>
<line x1="488.90" y1="328.50" x2="488.90" y2="331.50" stroke="#262626" stroke-width="1.3"/>
<text x="488.90" y="339.80" font-size="7.5" text-anchor="middle">0</text>
<line x1="523.60" y1="328.50" x2="523.60" y2="331.50" stroke="#262626" stroke-width="1.3"/>
<text x="523.60" y="339.80" font-size="7.5" text-anchor="middle">10</text>
<line x1="564.30" y1="328.50" x2="564.30" y2="331.50" stroke="#262626" stroke-width="1.3"/>
<text x="564.30" y="339.80" font-size="7.5" text-anchor="middle">15</text>
<line x1="605.00" y1="328.50" x2="605.00" y2="331.50" stroke="#262626" stroke-width="1.3"/>
<text x="605.00" y="339.80" font-size="7.5" text-anchor="middle">20</text>
<line x1="645.70" y1="328.50" x2="645.70" y2="331.50" stroke="#262626" stroke-width="1.3"/>
<text x="645.70" y="339.80" font-size="7.5" text-anchor="middle">25</text>
<text x="571.50" y="210.90" font-size="10" text-anchor="middle">KPL-3M</text>
<text x="568.20" y="351.80" font-size="8.7" text-anchor="middle">Days Post Tumor Inoculation</text>
<text x="462.90" y="276.00" font-size="8.9" text-anchor="middle" transform="rotate(-90 462.90 276.00)">Tumor Volume (mm<tspan font-size="5.79" dy="-3.2">3</tspan><tspan dy="3.2">)</tspan></text>
<polyline points="507.32,327.98 523.60,324.31 548.02,315.41 564.30,306.51 580.58,276.15 605.00,247.57 621.28,228.51" fill="none" stroke="#000" stroke-width="1.25" stroke-linejoin="round"/>
<polyline points="507.32,327.98 523.60,324.31 548.02,318.03 564.30,308.61 580.58,292.90 605.00,265.68 621.28,246.83" fill="none" stroke="#000" stroke-width="1.25" stroke-linejoin="round"/>
<polyline points="507.32,327.98 523.60,324.84 548.02,311.22 564.30,308.61 580.58,297.09 605.00,278.77 621.28,256.52" fill="none" stroke="#000" stroke-width="1.25" stroke-linejoin="round"/>
<polyline points="507.32,327.98 523.60,324.84 548.02,319.08 564.30,310.18 580.58,294.47 605.00,287.67 621.28,258.35" fill="none" stroke="#000" stroke-width="1.25" stroke-linejoin="round"/>
<polyline points="507.32,327.98 523.60,325.36 548.02,320.65 564.30,303.37 580.58,296.04 605.00,281.38 621.28,268.30" fill="none" stroke="#000" stroke-width="1.25" stroke-linejoin="round"/>
<polyline points="507.32,327.98 523.60,325.36 548.02,323.26 564.30,311.75 580.58,298.14 605.00,291.86 621.28,273.53" fill="none" stroke="#000" stroke-width="1.25" stroke-linejoin="round"/>
<polyline points="507.32,327.98 523.60,325.88 548.02,320.65 564.30,312.80 580.58,299.71 605.00,289.24 621.28,270.92" fill="none" stroke="#000" stroke-width="1.25" stroke-linejoin="round"/>
<polyline points="507.32,327.98 523.60,324.31 548.02,318.03 564.30,311.22 580.58,297.09 605.00,291.86 621.28,279.81" fill="none" stroke="#ff0000" stroke-width="1.0" stroke-linejoin="round"/>
<polyline points="507.32,327.98 523.60,324.31 548.02,318.03 564.30,312.80 580.58,302.32 605.00,289.24 621.28,284.00" fill="none" stroke="#ff0000" stroke-width="1.0" stroke-linejoin="round"/>
<polyline points="507.32,327.98 523.60,324.84 548.02,319.08 564.30,310.18 580.58,304.94 605.00,297.09 621.28,286.88" fill="none" stroke="#ff0000" stroke-width="1.0" stroke-linejoin="round"/>
<polyline points="507.32,327.98 523.60,324.84 548.02,320.65 564.30,313.84 580.58,307.56 605.00,294.47 621.28,290.28" fill="none" stroke="#ff0000" stroke-width="1.0" stroke-linejoin="round"/>
<polyline points="507.32,327.98 523.60,325.36 548.02,319.08 564.30,314.89 580.58,319.08 605.00,311.75 621.28,296.57" fill="none" stroke="#ff0000" stroke-width="1.0" stroke-linejoin="round"/>
<polyline points="507.32,327.98 523.60,325.36 548.02,318.03 564.30,312.80 580.58,310.18 605.00,307.56 621.28,303.90" fill="none" stroke="#ff0000" stroke-width="1.0" stroke-linejoin="round"/>
<polyline points="507.32,327.98 523.60,325.36 548.02,320.12 564.30,313.32 580.58,308.61 605.00,302.32 621.28,295.00" fill="none" stroke="#ff0000" stroke-width="1.0" stroke-linejoin="round"/>
<line x1="36.60" y1="421.00" x2="36.60" y2="528.60" stroke="#262626" stroke-width="1.3"/>
<line x1="33.60" y1="525.60" x2="36.60" y2="525.60" stroke="#262626" stroke-width="1.3"/>
<text x="32.40" y="528.20" font-size="7.5" text-anchor="end">0</text>
<line x1="33.60" y1="504.80" x2="36.60" y2="504.80" stroke="#262626" stroke-width="1.3"/>
<text x="32.40" y="507.40" font-size="7.5" text-anchor="end">200</text>
<line x1="33.60" y1="484.00" x2="36.60" y2="484.00" stroke="#262626" stroke-width="1.3"/>
<text x="32.40" y="486.60" font-size="7.5" text-anchor="end">400</text>
<line x1="33.60" y1="463.20" x2="36.60" y2="463.20" stroke="#262626" stroke-width="1.3"/>
<text x="32.40" y="465.80" font-size="7.5" text-anchor="end">600</text>
<line x1="33.60" y1="442.40" x2="36.60" y2="442.40" stroke="#262626" stroke-width="1.3"/>
<text x="32.40" y="445.00" font-size="7.5" text-anchor="end">800</text>
<line x1="33.60" y1="421.60" x2="36.60" y2="421.60" stroke="#262626" stroke-width="1.3"/>
<text x="32.40" y="424.20" font-size="7.5" text-anchor="end">1000</text>
<line x1="33.60" y1="525.60" x2="43.60" y2="525.60" stroke="#262626" stroke-width="1.3"/>
<line x1="46.20" y1="525.60" x2="193.80" y2="525.60" stroke="#262626" stroke-width="1.3"/>
<line x1="43.60" y1="523.30" x2="43.60" y2="527.90" stroke="#262626" stroke-width="1.0"/>
<line x1="46.20" y1="523.30" x2="46.20" y2="527.90" stroke="#262626" stroke-width="1.0"/>
<line x1="36.60" y1="525.60" x2="36.60" y2="528.60" stroke="#262626" stroke-width="1.3"/>
<text x="36.60" y="536.90" font-size="7.5" text-anchor="middle">0</text>
<line x1="70.20" y1="525.60" x2="70.20" y2="528.60" stroke="#262626" stroke-width="1.3"/>
<text x="70.20" y="536.90" font-size="7.5" text-anchor="middle">10</text>
<line x1="111.20" y1="525.60" x2="111.20" y2="528.60" stroke="#262626" stroke-width="1.3"/>
<text x="111.20" y="536.90" font-size="7.5" text-anchor="middle">15</text>
<line x1="152.20" y1="525.60" x2="152.20" y2="528.60" stroke="#262626" stroke-width="1.3"/>
<text x="152.20" y="536.90" font-size="7.5" text-anchor="middle">20</text>
<line x1="193.20" y1="525.60" x2="193.20" y2="528.60" stroke="#262626" stroke-width="1.3"/>
<text x="193.20" y="536.90" font-size="7.5" text-anchor="middle">25</text>
<text x="117.60" y="412.60" font-size="10" text-anchor="middle">KPL-5M</text>
<text x="115.00" y="549.60" font-size="8.7" text-anchor="middle">Days Post Tumor Inoculation</text>
<text x="11.30" y="474.20" font-size="8.9" text-anchor="middle" transform="rotate(-90 11.30 474.20)">Tumor Volume (mm<tspan font-size="5.79" dy="-3.2">3</tspan><tspan dy="3.2">)</tspan></text>
<polyline points="53.80,525.39 78.40,524.04 103.00,521.44 119.40,521.44 135.80,521.65 160.40,520.92" fill="none" stroke="#ff0000" stroke-width="1.3" stroke-linejoin="round"/>
<circle cx="53.80" cy="525.39" r="1.6" fill="#ff0000"/>
<circle cx="78.40" cy="524.04" r="1.6" fill="#ff0000"/>
<circle cx="103.00" cy="521.44" r="1.6" fill="#ff0000"/>
<circle cx="119.40" cy="521.44" r="1.6" fill="#ff0000"/>
<circle cx="135.80" cy="521.65" r="1.6" fill="#ff0000"/>
<line x1="160.40" y1="519.05" x2="160.40" y2="522.79" stroke="#ff0000" stroke-width="1.1"/>
<line x1="158.40" y1="519.05" x2="162.40" y2="519.05" stroke="#ff0000" stroke-width="1.1"/>
<line x1="158.40" y1="522.79" x2="162.40" y2="522.79" stroke="#ff0000" stroke-width="1.1"/>
<circle cx="160.40" cy="520.92" r="1.6" fill="#ff0000"/>
<polyline points="53.80,525.39 78.40,523.73 103.00,516.97 119.40,503.24 135.80,477.24 160.40,444.27" fill="none" stroke="#000" stroke-width="1.3" stroke-linejoin="round"/>
<circle cx="53.80" cy="525.39" r="1.6" fill="#000"/>
<circle cx="78.40" cy="523.73" r="1.6" fill="#000"/>
<circle cx="103.00" cy="516.97" r="1.6" fill="#000"/>
<line x1="119.40" y1="501.99" x2="119.40" y2="504.49" stroke="#000" stroke-width="1.1"/>
<line x1="117.40" y1="501.99" x2="121.40" y2="501.99" stroke="#000" stroke-width="1.1"/>
<line x1="117.40" y1="504.49" x2="121.40" y2="504.49" stroke="#000" stroke-width="1.1"/>
<circle cx="119.40" cy="503.24" r="1.6" fill="#000"/>
<line x1="135.80" y1="473.60" x2="135.80" y2="480.88" stroke="#000" stroke-width="1.1"/>
<line x1="133.80" y1="473.60" x2="137.80" y2="473.60" stroke="#000" stroke-width="1.1"/>
<line x1="133.80" y1="480.88" x2="137.80" y2="480.88" stroke="#000" stroke-width="1.1"/>
<circle cx="135.80" cy="477.24" r="1.6" fill="#000"/>
<line x1="160.40" y1="437.20" x2="160.40" y2="451.34" stroke="#000" stroke-width="1.1"/>
<line x1="158.40" y1="437.20" x2="162.40" y2="437.20" stroke="#000" stroke-width="1.1"/>
<line x1="158.40" y1="451.34" x2="162.40" y2="451.34" stroke="#000" stroke-width="1.1"/>
<circle cx="160.40" cy="444.27" r="1.6" fill="#000"/>
<text x="115.00" y="498.20" font-size="9.6" text-anchor="middle">****</text>
<text x="132.10" y="469.60" font-size="9.6" text-anchor="middle">****</text>
<text x="160.20" y="434.30" font-size="9.6" text-anchor="middle">****</text>
<line x1="178.70" y1="404.70" x2="189.50" y2="404.70" stroke="#000" stroke-width="1.3"/>
<text x="195.80" y="407.70" font-size="8.4">Control</text>
<line x1="178.70" y1="418.50" x2="189.50" y2="418.50" stroke="#ff0000" stroke-width="1.3"/>
<text x="195.80" y="421.50" font-size="8.4">Anti-PD-1</text>
<polyline points="386.00,447.50 431.53,447.50 431.53,471.32 436.24,471.32 436.24,483.24 439.38,483.24 439.38,495.15 445.66,495.15 445.66,530.89 455.08,530.89 455.08,542.80" fill="none" stroke="#ff0000" stroke-width="1.3" stroke-linejoin="round" stroke-linejoin="miter"/>
<line x1="386.00" y1="447.50" x2="527.30" y2="447.50" stroke="#000" stroke-width="1.3"/>
<line x1="527.30" y1="445.50" x2="527.30" y2="448.00" stroke="#000" stroke-width="1.0"/>
<line x1="386.00" y1="446.90" x2="386.00" y2="545.80" stroke="#262626" stroke-width="1.3"/>
<line x1="383.00" y1="542.80" x2="543.60" y2="542.80" stroke="#262626" stroke-width="1.3"/>
<line x1="383.00" y1="542.80" x2="386.00" y2="542.80" stroke="#262626" stroke-width="1.3"/>
<text x="381.70" y="545.50" font-size="7.7" text-anchor="end">0</text>
<line x1="383.00" y1="495.15" x2="386.00" y2="495.15" stroke="#262626" stroke-width="1.3"/>
<text x="381.70" y="497.85" font-size="7.7" text-anchor="end">50</text>
<line x1="383.00" y1="447.50" x2="386.00" y2="447.50" stroke="#262626" stroke-width="1.3"/>
<text x="381.70" y="450.20" font-size="7.7" text-anchor="end">100</text>
<line x1="386.00" y1="542.80" x2="386.00" y2="545.80" stroke="#262626" stroke-width="1.3"/>
<text x="386.00" y="554.60" font-size="7.7" text-anchor="middle">0</text>
<line x1="417.40" y1="542.80" x2="417.40" y2="545.80" stroke="#262626" stroke-width="1.3"/>
<text x="417.40" y="554.60" font-size="7.7" text-anchor="middle">20</text>
<line x1="448.80" y1="542.80" x2="448.80" y2="545.80" stroke="#262626" stroke-width="1.3"/>
<text x="448.80" y="554.60" font-size="7.7" text-anchor="middle">40</text>
<line x1="480.20" y1="542.80" x2="480.20" y2="545.80" stroke="#262626" stroke-width="1.3"/>
<text x="480.20" y="554.60" font-size="7.7" text-anchor="middle">60</text>
<line x1="511.60" y1="542.80" x2="511.60" y2="545.80" stroke="#262626" stroke-width="1.3"/>
<text x="511.60" y="554.60" font-size="7.7" text-anchor="middle">80</text>
<line x1="543.00" y1="542.80" x2="543.00" y2="545.80" stroke="#262626" stroke-width="1.3"/>
<text x="543.00" y="554.60" font-size="7.7" text-anchor="middle">100</text>
<text x="364.60" y="490.90" font-size="8.4" text-anchor="middle" transform="rotate(-90 364.6 490.9)">Percent survival</text>
<text x="464.40" y="566.60" font-size="8.7" text-anchor="middle">Days elapsed</text>
<polyline points="85.60,866.70 116.94,866.70 116.94,893.90 120.07,893.90 120.07,907.50 123.21,907.50 123.21,934.60 129.48,934.60 129.48,961.80" fill="none" stroke="#ff0000" stroke-width="1.3" stroke-linejoin="round" stroke-linejoin="miter"/>
<line x1="85.60" y1="866.70" x2="226.63" y2="866.70" stroke="#000" stroke-width="1.3"/>
<line x1="226.63" y1="864.70" x2="226.63" y2="867.20" stroke="#000" stroke-width="1.0"/>
<line x1="85.60" y1="866.10" x2="85.60" y2="964.80" stroke="#262626" stroke-width="1.3"/>
<line x1="82.60" y1="961.80" x2="242.90" y2="961.80" stroke="#262626" stroke-width="1.3"/>
<line x1="82.60" y1="961.80" x2="85.60" y2="961.80" stroke="#262626" stroke-width="1.3"/>
<text x="81.30" y="964.50" font-size="7.7" text-anchor="end">0</text>
<line x1="82.60" y1="914.25" x2="85.60" y2="914.25" stroke="#262626" stroke-width="1.3"/>
<text x="81.30" y="916.95" font-size="7.7" text-anchor="end">50</text>
<line x1="82.60" y1="866.70" x2="85.60" y2="866.70" stroke="#262626" stroke-width="1.3"/>
<text x="81.30" y="869.40" font-size="7.7" text-anchor="end">100</text>
<line x1="85.60" y1="961.80" x2="85.60" y2="964.80" stroke="#262626" stroke-width="1.3"/>
<text x="85.60" y="973.60" font-size="7.7" text-anchor="middle">0</text>
<line x1="116.94" y1="961.80" x2="116.94" y2="964.80" stroke="#262626" stroke-width="1.3"/>
<text x="116.94" y="973.60" font-size="7.7" text-anchor="middle">20</text>
<line x1="148.28" y1="961.80" x2="148.28" y2="964.80" stroke="#262626" stroke-width="1.3"/>
<text x="148.28" y="973.60" font-size="7.7" text-anchor="middle">40</text>
<line x1="179.62" y1="961.80" x2="179.62" y2="964.80" stroke="#262626" stroke-width="1.3"/>
<text x="179.62" y="973.60" font-size="7.7" text-anchor="middle">60</text>
<line x1="210.96" y1="961.80" x2="210.96" y2="964.80" stroke="#262626" stroke-width="1.3"/>
<text x="210.96" y="973.60" font-size="7.7" text-anchor="middle">80</text>
<line x1="242.30" y1="961.80" x2="242.30" y2="964.80" stroke="#262626" stroke-width="1.3"/>
<text x="242.30" y="973.60" font-size="7.7" text-anchor="middle">100</text>
<text x="64.20" y="909.40" font-size="8.4" text-anchor="middle" transform="rotate(-90 64.2 909.4)">Percent survival</text>
<text x="163.60" y="986.20" font-size="8.7" text-anchor="middle">Days elapsed</text>
<line x1="566.90" y1="445.20" x2="578.10" y2="445.20" stroke="#000" stroke-width="1.3"/>
<line x1="572.50" y1="443.00" x2="572.50" y2="445.20" stroke="#000" stroke-width="1.0"/>
<text x="584.50" y="448.40" font-size="8.5">Rechallenge</text>
<line x1="566.90" y1="459.60" x2="578.10" y2="459.60" stroke="#ff0000" stroke-width="1.3"/>
<line x1="572.50" y1="457.40" x2="572.50" y2="459.60" stroke="#ff0000" stroke-width="1.0"/>
<text x="584.50" y="462.80" font-size="8.5">Naive</text>
<line x1="249.80" y1="871.20" x2="261.00" y2="871.20" stroke="#000" stroke-width="1.3"/>
<line x1="255.40" y1="869.00" x2="255.40" y2="871.20" stroke="#000" stroke-width="1.0"/>
<text x="267.50" y="874.40" font-size="8.5">Rechallenge</text>
<line x1="249.80" y1="885.70" x2="261.00" y2="885.70" stroke="#ff0000" stroke-width="1.3"/>
<line x1="255.40" y1="883.50" x2="255.40" y2="885.70" stroke="#ff0000" stroke-width="1.0"/>
<text x="267.50" y="888.90" font-size="8.5">Naive</text>
<line x1="353.10" y1="419.90" x2="393.40" y2="419.90" stroke="#111" stroke-width="1.35"/>
<path d="M8.2,0 C9.3,-6.5 10.3,-12.6 14.4,-13.1 C17.8,-13.4 21.5,-10 28.0,-4.4 L30.1,-7.2 C31.2,-7.2 33,-6 39.4,-0.3" transform="translate(353.10,419.90)" fill="none" stroke="#111" stroke-width="1.4" stroke-linejoin="round"/>
<circle cx="367.50" cy="412.80" r="2.25" fill="#ff0000"/>
<circle cx="340.04" cy="392.95" r="1.15" fill="none" stroke="#8a8a8a" stroke-width="0.7"/>
<line x1="341.07" y1="393.69" x2="349.35" y2="399.67" stroke="#9a9a9a" stroke-width="0.9"/>
<line x1="343.60" y1="395.52" x2="346.13" y2="397.35" stroke="#555" stroke-width="1.7"/>
<line x1="348.43" y1="399.01" x2="350.50" y2="400.50" stroke="#8c8c8c" stroke-width="2.4"/>
<line x1="350.50" y1="400.50" x2="359.01" y2="406.64" stroke="#5a0a0a" stroke-width="3.0"/>
<line x1="350.50" y1="400.50" x2="359.01" y2="406.64" stroke="#e01010" stroke-width="2.2"/>
<line x1="359.01" y1="406.64" x2="362.00" y2="408.80" stroke="#8a6aa8" stroke-width="0.7"/>
<text x="359.40" y="399.20" font-size="7.85">KPL-5M</text>
<line x1="403.90" y1="419.80" x2="450.70" y2="419.80" stroke="#000" stroke-width="1.5"/>
<path d="M449.70,415.90 L459.30,419.80 L449.70,423.70 Z" fill="#000"/>
<text x="410.90" y="415.90" font-size="7.15">Anti-PD-1</text>
<line x1="476.20" y1="419.30" x2="516.50" y2="419.30" stroke="#111" stroke-width="1.35"/>
<path d="M8.2,0 C9.3,-6.5 10.3,-12.6 14.4,-13.1 C17.8,-13.4 21.5,-10 28.0,-4.4 L30.1,-7.2 C31.2,-7.2 33,-6 39.4,-0.3" transform="translate(476.20,419.30)" fill="none" stroke="#111" stroke-width="1.4" stroke-linejoin="round"/>
<line x1="530.00" y1="419.20" x2="576.80" y2="419.20" stroke="#000" stroke-width="1.5"/>
<path d="M575.80,415.30 L585.40,419.20 L575.80,423.10 Z" fill="#000"/>
<text x="530.80" y="414.80" font-size="7.15">Rechallenge</text>
<line x1="596.80" y1="419.60" x2="637.10" y2="419.60" stroke="#111" stroke-width="1.35"/>
<path d="M8.2,0 C9.3,-6.5 10.3,-12.6 14.4,-13.1 C17.8,-13.4 21.5,-10 28.0,-4.4 L30.1,-7.2 C31.2,-7.2 33,-6 39.4,-0.3" transform="translate(596.80,419.60)" fill="none" stroke="#111" stroke-width="1.4" stroke-linejoin="round"/>
<circle cx="611.20" cy="412.50" r="2.25" fill="#ff0000"/>
<circle cx="583.73" cy="392.65" r="1.15" fill="none" stroke="#8a8a8a" stroke-width="0.7"/>
<line x1="584.77" y1="393.39" x2="593.05" y2="399.37" stroke="#9a9a9a" stroke-width="0.9"/>
<line x1="587.30" y1="395.22" x2="589.83" y2="397.05" stroke="#555" stroke-width="1.7"/>
<line x1="592.13" y1="398.71" x2="594.20" y2="400.20" stroke="#8c8c8c" stroke-width="2.4"/>
<line x1="594.20" y1="400.20" x2="602.71" y2="406.34" stroke="#5a0a0a" stroke-width="3.0"/>
<line x1="594.20" y1="400.20" x2="602.71" y2="406.34" stroke="#e01010" stroke-width="2.2"/>
<line x1="602.71" y1="406.34" x2="605.70" y2="408.50" stroke="#8a6aa8" stroke-width="0.7"/>
<text x="604.00" y="398.80" font-size="7.85">KPL-5M</text>
<line x1="38.50" y1="844.60" x2="78.80" y2="844.60" stroke="#111" stroke-width="1.35"/>
<path d="M8.2,0 C9.3,-6.5 10.3,-12.6 14.4,-13.1 C17.8,-13.4 21.5,-10 28.0,-4.4 L30.1,-7.2 C31.2,-7.2 33,-6 39.4,-0.3" transform="translate(38.50,844.60)" fill="none" stroke="#111" stroke-width="1.4" stroke-linejoin="round"/>
<circle cx="52.90" cy="837.50" r="2.25" fill="#ff0000"/>
<circle cx="25.43" cy="817.65" r="1.15" fill="none" stroke="#8a8a8a" stroke-width="0.7"/>
<line x1="26.47" y1="818.39" x2="34.75" y2="824.37" stroke="#9a9a9a" stroke-width="0.9"/>
<line x1="29.00" y1="820.22" x2="31.53" y2="822.05" stroke="#555" stroke-width="1.7"/>
<line x1="33.83" y1="823.71" x2="35.90" y2="825.20" stroke="#8c8c8c" stroke-width="2.4"/>
<line x1="35.90" y1="825.20" x2="44.41" y2="831.34" stroke="#5a0a0a" stroke-width="3.0"/>
<line x1="35.90" y1="825.20" x2="44.41" y2="831.34" stroke="#e01010" stroke-width="2.2"/>
<line x1="44.41" y1="831.34" x2="47.40" y2="833.50" stroke="#8a6aa8" stroke-width="0.7"/>
<text x="45.50" y="823.80" font-size="7.85">KPL-5M</text>
<line x1="88.80" y1="844.30" x2="138.60" y2="844.30" stroke="#000" stroke-width="1.5"/>
<path d="M137.60,840.40 L147.20,844.30 L137.60,848.20 Z" fill="#000"/>
<text x="95.80" y="840.40" font-size="7.95">Anti-PD-1</text>
<line x1="161.00" y1="843.90" x2="201.30" y2="843.90" stroke="#111" stroke-width="1.35"/>
<path d="M8.2,0 C9.3,-6.5 10.3,-12.6 14.4,-13.1 C17.8,-13.4 21.5,-10 28.0,-4.4 L30.1,-7.2 C31.2,-7.2 33,-6 39.4,-0.3" transform="translate(161.00,843.90)" fill="none" stroke="#111" stroke-width="1.4" stroke-linejoin="round"/>
<line x1="212.50" y1="843.90" x2="262.80" y2="843.90" stroke="#000" stroke-width="1.5"/>
<path d="M261.80,840.00 L271.40,843.90 L261.80,847.80 Z" fill="#000"/>
<text x="213.60" y="840.00" font-size="7.95">Rechallenge</text>
<line x1="282.40" y1="844.10" x2="322.70" y2="844.10" stroke="#111" stroke-width="1.35"/>
<path d="M8.2,0 C9.3,-6.5 10.3,-12.6 14.4,-13.1 C17.8,-13.4 21.5,-10 28.0,-4.4 L30.1,-7.2 C31.2,-7.2 33,-6 39.4,-0.3" transform="translate(282.40,844.10)" fill="none" stroke="#111" stroke-width="1.4" stroke-linejoin="round"/>
<circle cx="296.80" cy="837.00" r="2.25" fill="#000"/>
<circle cx="269.33" cy="817.15" r="1.15" fill="none" stroke="#8a8a8a" stroke-width="0.7"/>
<line x1="270.37" y1="817.89" x2="278.65" y2="823.87" stroke="#9a9a9a" stroke-width="0.9"/>
<line x1="272.90" y1="819.72" x2="275.43" y2="821.55" stroke="#555" stroke-width="1.7"/>
<line x1="277.73" y1="823.21" x2="279.80" y2="824.70" stroke="#8c8c8c" stroke-width="2.4"/>
<line x1="279.80" y1="824.70" x2="288.31" y2="830.84" stroke="#000" stroke-width="3.0"/>
<line x1="279.80" y1="824.70" x2="288.31" y2="830.84" stroke="#111" stroke-width="2.2"/>
<line x1="288.31" y1="830.84" x2="291.30" y2="833.00" stroke="#8a6aa8" stroke-width="0.7"/>
<text x="289.00" y="823.40" font-size="7.9">KPL-Parent</text>
<text x="321.90" y="595.60" font-size="8.6">Luminescence</text>
<defs><linearGradient id="lum" x1="0" y1="0" x2="0" y2="1"><stop offset="0" stop-color="#ff0000"/><stop offset="0.1" stop-color="#ff7a00"/><stop offset="0.2" stop-color="#f4f000"/><stop offset="0.3" stop-color="#90f000"/><stop offset="0.4" stop-color="#00e000"/><stop offset="0.5" stop-color="#00e890"/><stop offset="0.6" stop-color="#00f0f0"/><stop offset="0.7" stop-color="#0090ff"/><stop offset="0.82" stop-color="#0000f0"/><stop offset="1" stop-color="#7a00e8"/></linearGradient><radialGradient id="spot" cx="0.5" cy="0.5" r="0.5" fx="0.55" fy="0.38"><stop offset="0" stop-color="#ff1800"/><stop offset="0.12" stop-color="#ffd800"/><stop offset="0.3" stop-color="#30f000"/><stop offset="0.5" stop-color="#00e8c0"/><stop offset="0.64" stop-color="#00a0ff"/><stop offset="0.78" stop-color="#1018ff"/><stop offset="0.92" stop-color="#4010f8"/><stop offset="1" stop-color="#8050ff"/></radialGradient></defs>
<rect x="321.10" y="606.40" width="4.40" height="125.60" fill="url(#lum)"/>
<text x="331.20" y="610.10" font-size="8.8" font-weight="normal" fill="#111">1.0</text>
<text x="331.20" y="636.45" font-size="8.8" font-weight="normal" fill="#111">0.8</text>
<text x="331.20" y="662.80" font-size="8.8" font-weight="normal" fill="#111">0.6</text>
<text x="331.20" y="689.15" font-size="8.8" font-weight="normal" fill="#111">0.4</text>
<text x="331.20" y="715.50" font-size="8.8" font-weight="normal" fill="#111">0.2</text>
<line x1="325.50" y1="607.00" x2="328.00" y2="607.00" stroke="#333" stroke-width="0.7"/>
<line x1="325.50" y1="613.59" x2="327.00" y2="613.59" stroke="#333" stroke-width="0.7"/>
<line x1="325.50" y1="620.17" x2="327.00" y2="620.17" stroke="#333" stroke-width="0.7"/>
<line x1="325.50" y1="626.76" x2="327.00" y2="626.76" stroke="#333" stroke-width="0.7"/>
<line x1="325.50" y1="633.35" x2="328.00" y2="633.35" stroke="#333" stroke-width="0.7"/>
<line x1="325.50" y1="639.94" x2="327.00" y2="639.94" stroke="#333" stroke-width="0.7"/>
<line x1="325.50" y1="646.52" x2="327.00" y2="646.52" stroke="#333" stroke-width="0.7"/>
<line x1="325.50" y1="653.11" x2="327.00" y2="653.11" stroke="#333" stroke-width="0.7"/>
<line x1="325.50" y1="659.70" x2="328.00" y2="659.70" stroke="#333" stroke-width="0.7"/>
<line x1="325.50" y1="666.29" x2="327.00" y2="666.29" stroke="#333" stroke-width="0.7"/>
<line x1="325.50" y1="672.88" x2="327.00" y2="672.88" stroke="#333" stroke-width="0.7"/>
<line x1="325.50" y1="679.46" x2="327.00" y2="679.46" stroke="#333" stroke-width="0.7"/>
<line x1="325.50" y1="686.05" x2="328.00" y2="686.05" stroke="#333" stroke-width="0.7"/>
<line x1="325.50" y1="692.64" x2="327.00" y2="692.64" stroke="#333" stroke-width="0.7"/>
<line x1="325.50" y1="699.23" x2="327.00" y2="699.23" stroke="#333" stroke-width="0.7"/>
<line x1="325.50" y1="705.81" x2="327.00" y2="705.81" stroke="#333" stroke-width="0.7"/>
<line x1="325.50" y1="712.40" x2="328.00" y2="712.40" stroke="#333" stroke-width="0.7"/>
<line x1="325.50" y1="718.99" x2="327.00" y2="718.99" stroke="#333" stroke-width="0.7"/>
<line x1="325.50" y1="725.58" x2="327.00" y2="725.58" stroke="#333" stroke-width="0.7"/>
<text x="344.3" y="732.8" font-size="8.6" font-weight="normal" fill="#111">x10<tspan font-size="5.2" dy="-3.2">6</tspan></text>
<rect x="369.60" y="604.30" width="303.00" height="127.00" fill="#121212"/>
<rect x="376.50" y="604.30" width="137.50" height="15.20" fill="#2c2c2c"/>
<rect x="527.00" y="604.30" width="145.60" height="15.20" fill="#2c2c2c"/>
<rect x="369.60" y="604.30" width="303.00" height="1.20" fill="#1a1a1a"/>
<line x1="523.60" y1="604.30" x2="523.60" y2="731.30" stroke="#060606" stroke-width="1.0"/>
<g stroke="#303030" stroke-width="0.7" fill="none">
<line x1="402.00" y1="694.00" x2="487.00" y2="694.00" stroke="#2a2a2a" stroke-width="0.7"/>
<line x1="402.00" y1="701.00" x2="487.00" y2="701.00" stroke="#2a2a2a" stroke-width="0.7"/>
<line x1="402.00" y1="708.00" x2="487.00" y2="708.00" stroke="#2a2a2a" stroke-width="0.7"/>
<line x1="402.00" y1="715.00" x2="487.00" y2="715.00" stroke="#2a2a2a" stroke-width="0.7"/>
<line x1="402.00" y1="722.00" x2="487.00" y2="722.00" stroke="#2a2a2a" stroke-width="0.7"/>
</g>
<rect x="402.00" y="689.00" width="85.00" height="32.00" fill="none" stroke="#303030" stroke-width="0.8"/>
<rect x="543.00" y="688.00" width="110.00" height="14.00" fill="none" stroke="#303030" stroke-width="0.8"/>
<line x1="403.00" y1="619.00" x2="403.00" y2="690.00" stroke="#303030" stroke-width="1.2"/>
<line x1="430.00" y1="619.00" x2="430.00" y2="690.00" stroke="#303030" stroke-width="1.2"/>
<line x1="459.00" y1="619.00" x2="459.00" y2="690.00" stroke="#303030" stroke-width="1.2"/>
<line x1="486.00" y1="619.00" x2="486.00" y2="690.00" stroke="#303030" stroke-width="1.2"/>
<line x1="514.00" y1="619.00" x2="514.00" y2="690.00" stroke="#303030" stroke-width="1.2"/>
<line x1="557.00" y1="619.00" x2="557.00" y2="690.00" stroke="#303030" stroke-width="1.2"/>
<line x1="583.00" y1="619.00" x2="583.00" y2="690.00" stroke="#303030" stroke-width="1.2"/>
<line x1="611.00" y1="619.00" x2="611.00" y2="690.00" stroke="#303030" stroke-width="1.2"/>
<line x1="638.00" y1="619.00" x2="638.00" y2="690.00" stroke="#303030" stroke-width="1.2"/>
<line x1="664.00" y1="619.00" x2="664.00" y2="690.00" stroke="#303030" stroke-width="1.2"/>
<rect x="391.69" y="618.50" width="4.00" height="11.80" fill="#505050"/>
<rect x="392.89" y="620.50" width="1.60" height="9.80" fill="#8a8a8a"/>
<path d="M388.50,688.00 Q386.50,704.00 385.60,714.50 T382.70,731.3" fill="none" stroke="#c4c4c4" stroke-width="1.8"/>
<path d="M394.00,629.30 C394.55,629.50 395.11,631.63 395.46,632.94 C395.80,634.26 396.08,635.77 396.08,637.19 C396.08,638.61 394.90,640.18 395.46,641.44 C396.01,642.70 399.20,643.77 399.41,644.78 C399.62,645.79 396.83,645.54 396.70,647.51 C396.58,649.48 398.18,652.57 398.68,656.62 C399.18,660.66 399.46,667.64 399.72,671.79 C399.98,675.94 399.08,678.82 400.24,681.50 C401.40,684.18 406.86,686.61 406.69,687.88 C406.51,689.14 401.66,688.74 399.20,689.09 C396.74,689.44 394.35,690.30 391.92,690.00 C389.49,689.70 386.65,689.29 384.64,687.27 C382.63,685.25 380.90,681.96 379.86,677.86 C378.82,673.76 378.40,667.44 378.40,662.68 C378.40,657.93 379.20,652.42 379.86,649.33 C380.51,646.25 382.63,645.59 382.35,644.17 C382.07,642.76 377.90,641.69 378.19,640.83 C378.49,639.97 382.39,639.92 384.12,639.01 C385.85,638.10 387.26,636.58 388.59,635.37 C389.93,634.16 391.23,632.74 392.13,631.73 C393.03,630.72 393.45,629.10 394.00,629.30Z" fill="#e6e6e6"/>
<ellipse cx="392.44" cy="654.79" rx="4.68" ry="7.28" fill="#bcbcbc" opacity="0.3"/>
<ellipse cx="384.64" cy="676.65" rx="4.68" ry="6.07" fill="#b0b0b0" opacity="0.3"/>
<ellipse cx="387.76" cy="641.44" rx="5.72" ry="6.07" fill="#f4f4f4" opacity="0.7"/>
<ellipse cx="388.80" cy="666.93" rx="7.49" ry="7.28" fill="#9c9c9c" opacity="0.6"/>
<ellipse cx="387.60" cy="667.90" rx="4.40" ry="5.60" fill="url(#spot)"/>
<rect x="419.00" y="618.50" width="4.00" height="11.80" fill="#505050"/>
<rect x="420.20" y="620.50" width="1.60" height="9.80" fill="#8a8a8a"/>
<path d="M413.30,688.50 Q411.30,704.50 410.65,714.75 T408.00,731.3" fill="none" stroke="#c4c4c4" stroke-width="1.8"/>
<path d="M421.30,629.30 C421.83,629.50 422.37,631.65 422.70,632.97 C423.03,634.30 423.30,635.83 423.30,637.26 C423.30,638.68 422.17,640.26 422.70,641.54 C423.23,642.81 426.30,643.89 426.50,644.91 C426.70,645.93 424.02,645.67 423.90,647.66 C423.78,649.65 425.32,652.76 425.80,656.84 C426.28,660.92 426.55,667.96 426.80,672.14 C427.05,676.32 426.18,679.23 427.30,681.93 C428.42,684.63 433.67,687.08 433.50,688.36 C433.33,689.63 428.67,689.23 426.30,689.58 C423.93,689.94 421.63,690.81 419.30,690.50 C416.97,690.19 414.23,689.79 412.30,687.75 C410.37,685.71 408.70,682.39 407.70,678.26 C406.70,674.13 406.30,667.75 406.30,662.96 C406.30,658.17 407.07,652.61 407.70,649.50 C408.33,646.38 410.37,645.72 410.10,644.29 C409.83,642.87 405.82,641.79 406.10,640.93 C406.38,640.06 410.13,640.01 411.80,639.09 C413.47,638.17 414.82,636.64 416.10,635.42 C417.38,634.20 418.63,632.77 419.50,631.75 C420.37,630.73 420.77,629.10 421.30,629.30Z" fill="#e6e6e6"/>
<ellipse cx="419.80" cy="655.00" rx="4.50" ry="7.34" fill="#bcbcbc" opacity="0.3"/>
<ellipse cx="412.30" cy="677.04" rx="4.50" ry="6.12" fill="#b0b0b0" opacity="0.3"/>
<ellipse cx="415.30" cy="641.54" rx="5.50" ry="6.12" fill="#f4f4f4" opacity="0.7"/>
<ellipse cx="418.30" cy="666.02" rx="7.20" ry="7.34" fill="#9c9c9c" opacity="0.6"/>
<ellipse cx="419.00" cy="667.30" rx="4.80" ry="5.20" fill="url(#spot)"/>
<rect x="443.66" y="618.50" width="4.00" height="14.50" fill="#505050"/>
<rect x="444.86" y="620.50" width="1.60" height="12.50" fill="#8a8a8a"/>
<path d="M440.50,691.40 Q438.50,707.40 437.75,716.20 T435.00,731.3" fill="none" stroke="#c4c4c4" stroke-width="1.8"/>
<path d="M445.98,632.00 C446.56,632.20 447.14,634.35 447.50,635.68 C447.86,637.01 448.14,638.55 448.14,639.98 C448.14,641.41 446.92,643.00 447.50,644.28 C448.07,645.56 450.90,646.63 451.60,647.66 C452.30,648.68 451.35,648.42 451.71,650.42 C452.07,652.42 453.24,655.54 453.76,659.63 C454.28,663.72 454.57,670.78 454.84,674.98 C455.11,679.18 454.17,682.09 455.38,684.80 C456.59,687.52 462.26,689.97 462.08,691.25 C461.90,692.53 456.86,692.12 454.30,692.48 C451.74,692.84 449.26,693.71 446.74,693.40 C444.22,693.09 441.27,692.68 439.18,690.64 C437.09,688.59 435.29,685.26 434.21,681.12 C433.13,676.98 432.70,670.58 432.70,665.77 C432.70,660.96 434.01,655.38 434.21,652.26 C434.41,649.14 434.66,648.48 433.89,647.04 C433.11,645.61 429.26,644.54 429.57,643.67 C429.87,642.80 433.92,642.74 435.72,641.82 C437.52,640.90 438.98,639.37 440.37,638.14 C441.75,636.91 443.10,635.48 444.04,634.46 C444.98,633.43 445.41,631.80 445.98,632.00Z" fill="#e6e6e6"/>
<ellipse cx="447.28" cy="657.79" rx="4.86" ry="7.37" fill="#bcbcbc" opacity="0.3"/>
<ellipse cx="439.18" cy="679.89" rx="4.86" ry="6.14" fill="#b0b0b0" opacity="0.3"/>
<ellipse cx="442.42" cy="644.28" rx="5.94" ry="6.14" fill="#f4f4f4" opacity="0.7"/>
<ellipse cx="442.50" cy="670.07" rx="7.78" ry="7.37" fill="#9c9c9c" opacity="0.6"/>
<ellipse cx="442.10" cy="672.40" rx="4.40" ry="4.80" fill="url(#spot)"/>
<rect x="469.56" y="618.50" width="4.00" height="11.80" fill="#505050"/>
<rect x="470.76" y="620.50" width="1.60" height="9.80" fill="#8a8a8a"/>
<path d="M469.00,688.50 Q467.00,704.50 467.20,714.75 T465.40,731.3" fill="none" stroke="#c4c4c4" stroke-width="1.8"/>
<path d="M471.88,629.30 C472.44,629.50 473.01,631.65 473.36,632.97 C473.72,634.30 474.00,635.83 474.00,637.26 C474.00,638.68 472.80,640.26 473.36,641.54 C473.93,642.81 476.52,643.89 477.39,644.91 C478.26,645.93 478.03,645.67 478.56,647.66 C479.09,649.65 480.06,652.76 480.57,656.84 C481.08,660.92 481.37,667.96 481.63,672.14 C481.89,676.32 480.98,679.23 482.16,681.93 C483.34,684.63 488.91,687.08 488.73,688.36 C488.56,689.63 483.61,689.23 481.10,689.58 C478.59,689.94 476.15,690.81 473.68,690.50 C471.21,690.19 468.31,689.79 466.26,687.75 C464.21,685.71 462.44,682.39 461.38,678.26 C460.32,674.13 459.90,667.75 459.90,662.96 C459.90,658.17 461.37,652.61 461.38,649.50 C461.40,646.38 460.94,645.72 460.01,644.29 C459.07,642.87 455.47,641.79 455.77,640.93 C456.07,640.06 460.04,640.01 461.81,639.09 C463.57,638.17 465.01,636.64 466.37,635.42 C467.73,634.20 469.05,632.77 469.97,631.75 C470.89,630.73 471.31,629.10 471.88,629.30Z" fill="#e6e6e6"/>
<ellipse cx="474.21" cy="655.00" rx="4.77" ry="7.34" fill="#bcbcbc" opacity="0.3"/>
<ellipse cx="466.26" cy="677.04" rx="4.77" ry="6.12" fill="#b0b0b0" opacity="0.3"/>
<ellipse cx="469.44" cy="641.54" rx="5.83" ry="6.12" fill="#f4f4f4" opacity="0.7"/>
<ellipse cx="473.00" cy="667.24" rx="7.63" ry="7.34" fill="#9c9c9c" opacity="0.6"/>
<ellipse cx="474.20" cy="669.20" rx="5.40" ry="6.10" fill="url(#spot)"/>
<rect x="495.80" y="618.50" width="4.00" height="11.80" fill="#505050"/>
<rect x="497.00" y="620.50" width="1.60" height="9.80" fill="#8a8a8a"/>
<path d="M493.30,688.50 Q491.30,704.50 491.05,714.75 T488.80,731.3" fill="none" stroke="#c4c4c4" stroke-width="1.8"/>
<path d="M498.11,629.30 C498.67,629.50 499.22,631.65 499.57,632.97 C499.91,634.30 500.19,635.83 500.19,637.26 C500.19,638.68 499.01,640.26 499.57,641.54 C500.12,642.81 502.50,643.89 503.52,644.91 C504.54,645.93 505.01,645.67 505.70,647.66 C506.40,649.65 507.18,652.76 507.68,656.84 C508.18,660.92 508.46,667.96 508.72,672.14 C508.98,676.32 508.08,679.23 509.24,681.93 C510.40,684.63 515.86,687.08 515.69,688.36 C515.51,689.63 510.66,689.23 508.20,689.58 C505.74,689.94 503.35,690.81 500.92,690.50 C498.49,690.19 495.65,689.79 493.64,687.75 C491.63,685.71 489.90,682.39 488.86,678.26 C487.82,674.13 487.40,667.75 487.40,662.96 C487.40,658.17 489.01,652.61 488.86,649.50 C488.70,646.38 487.56,645.72 486.46,644.29 C485.37,642.87 482.01,641.79 482.30,640.93 C482.60,640.06 486.50,640.01 488.23,639.09 C489.97,638.17 491.37,636.64 492.70,635.42 C494.04,634.20 495.34,632.77 496.24,631.75 C497.14,630.73 497.56,629.10 498.11,629.30Z" fill="#e6e6e6"/>
<ellipse cx="501.44" cy="655.00" rx="4.68" ry="7.34" fill="#bcbcbc" opacity="0.3"/>
<ellipse cx="493.64" cy="677.04" rx="4.68" ry="6.12" fill="#b0b0b0" opacity="0.3"/>
<ellipse cx="496.76" cy="641.54" rx="5.72" ry="6.12" fill="#f4f4f4" opacity="0.7"/>
<ellipse cx="498.80" cy="667.24" rx="7.49" ry="7.34" fill="#9c9c9c" opacity="0.6"/>
<ellipse cx="499.50" cy="668.30" rx="4.60" ry="5.80" fill="url(#spot)"/>
<rect x="543.26" y="618.50" width="4.00" height="11.50" fill="#505050"/>
<rect x="544.46" y="620.50" width="1.60" height="9.50" fill="#8a8a8a"/>
<path d="M535.50,684.40 Q533.50,700.40 538.70,712.70 T541.90,731.3" fill="none" stroke="#c4c4c4" stroke-width="1.8"/>
<path d="M545.62,629.00 C546.26,629.19 546.90,631.20 547.30,632.44 C547.70,633.69 548.02,635.12 548.02,636.46 C548.02,637.80 546.66,639.28 547.30,640.48 C547.94,641.68 551.94,642.68 551.86,643.64 C551.78,644.59 547.28,644.35 546.82,646.22 C546.36,648.09 548.52,651.00 549.10,654.83 C549.68,658.66 550.00,665.26 550.30,669.18 C550.60,673.10 549.56,675.83 550.90,678.36 C552.24,680.90 558.54,683.20 558.34,684.39 C558.14,685.59 552.54,685.20 549.70,685.54 C546.86,685.87 544.10,686.69 541.30,686.40 C538.50,686.11 535.22,685.73 532.90,683.82 C530.58,681.90 528.58,678.79 527.38,674.92 C526.18,671.05 525.70,665.07 525.70,660.57 C525.70,656.07 526.30,650.86 527.38,647.94 C528.46,645.02 532.18,644.40 532.18,643.06 C532.18,641.72 527.04,640.72 527.38,639.91 C527.72,639.09 532.22,639.04 534.22,638.18 C536.22,637.32 537.84,635.89 539.38,634.74 C540.92,633.59 542.42,632.25 543.46,631.30 C544.50,630.34 544.98,628.81 545.62,629.00Z" fill="#e6e6e6"/>
<ellipse cx="541.90" cy="653.11" rx="5.40" ry="6.89" fill="#bcbcbc" opacity="0.3"/>
<ellipse cx="532.90" cy="673.77" rx="5.40" ry="5.74" fill="#b0b0b0" opacity="0.3"/>
<ellipse cx="536.50" cy="640.48" rx="6.60" ry="5.74" fill="#f4f4f4" opacity="0.7"/>
<ellipse cx="536.70" cy="665.16" rx="8.64" ry="6.89" fill="#9c9c9c" opacity="0.6"/>
<rect x="570.63" y="618.50" width="4.00" height="10.00" fill="#505050"/>
<rect x="571.83" y="620.50" width="1.60" height="8.00" fill="#8a8a8a"/>
<path d="M566.00,686.80 Q564.00,702.80 562.70,713.90 T559.40,731.3" fill="none" stroke="#c4c4c4" stroke-width="1.8"/>
<path d="M572.96,627.50 C573.55,627.70 574.15,629.85 574.52,631.18 C574.89,632.51 575.18,634.04 575.18,635.47 C575.18,636.90 573.92,638.48 574.52,639.76 C575.11,641.04 578.20,642.11 578.73,643.13 C579.27,644.15 577.55,643.90 577.74,645.89 C577.92,647.88 579.31,651.00 579.84,655.09 C580.38,659.17 580.68,666.22 580.95,670.41 C581.23,674.60 580.27,677.51 581.51,680.22 C582.75,682.93 588.58,685.38 588.39,686.65 C588.21,687.93 583.03,687.52 580.40,687.88 C577.77,688.24 575.22,689.11 572.63,688.80 C570.04,688.49 567.01,688.08 564.86,686.04 C562.71,684.00 560.86,680.68 559.75,676.54 C558.64,672.40 558.20,666.02 558.20,661.21 C558.20,656.41 559.37,650.85 559.75,647.73 C560.14,644.61 561.14,643.95 560.53,642.52 C559.92,641.09 555.78,640.02 556.09,639.15 C556.41,638.28 560.57,638.23 562.42,637.31 C564.27,636.39 565.77,634.86 567.19,633.63 C568.62,632.40 570.00,630.97 570.96,629.95 C571.93,628.93 572.37,627.30 572.96,627.50Z" fill="#e6e6e6"/>
<ellipse cx="573.18" cy="653.25" rx="5.00" ry="7.36" fill="#bcbcbc" opacity="0.3"/>
<ellipse cx="564.86" cy="675.31" rx="5.00" ry="6.13" fill="#b0b0b0" opacity="0.3"/>
<ellipse cx="568.19" cy="639.76" rx="6.11" ry="6.13" fill="#f4f4f4" opacity="0.7"/>
<ellipse cx="568.80" cy="665.51" rx="7.99" ry="7.36" fill="#9c9c9c" opacity="0.6"/>
<rect x="599.00" y="618.50" width="4.00" height="10.00" fill="#505050"/>
<rect x="600.20" y="620.50" width="1.60" height="8.00" fill="#8a8a8a"/>
<path d="M591.50,688.00 Q589.50,704.00 593.55,714.50 T595.60,731.3" fill="none" stroke="#c4c4c4" stroke-width="1.8"/>
<path d="M601.36,627.50 C602.00,627.71 602.64,629.90 603.04,631.25 C603.44,632.60 603.76,634.17 603.76,635.62 C603.76,637.08 602.40,638.70 603.04,640.00 C603.68,641.30 607.22,642.40 607.60,643.44 C607.98,644.48 605.32,644.22 605.32,646.25 C605.32,648.28 607.02,651.46 607.60,655.62 C608.18,659.79 608.50,666.98 608.80,671.25 C609.10,675.52 608.06,678.49 609.40,681.25 C610.74,684.01 617.04,686.51 616.84,687.81 C616.64,689.11 611.04,688.70 608.20,689.06 C605.36,689.43 602.60,690.31 599.80,690.00 C597.00,689.69 593.72,689.27 591.40,687.19 C589.08,685.10 587.08,681.72 585.88,677.50 C584.68,673.28 584.20,666.77 584.20,661.88 C584.20,656.98 585.26,651.30 585.88,648.12 C586.50,644.95 588.38,644.27 587.92,642.81 C587.46,641.35 582.78,640.26 583.12,639.38 C583.46,638.49 587.96,638.44 589.96,637.50 C591.96,636.56 593.58,635.00 595.12,633.75 C596.66,632.50 598.16,631.04 599.20,630.00 C600.24,628.96 600.72,627.29 601.36,627.50Z" fill="#e6e6e6"/>
<ellipse cx="600.40" cy="653.75" rx="5.40" ry="7.50" fill="#bcbcbc" opacity="0.3"/>
<ellipse cx="591.40" cy="676.25" rx="5.40" ry="6.25" fill="#b0b0b0" opacity="0.3"/>
<ellipse cx="595.00" cy="640.00" rx="6.60" ry="6.25" fill="#f4f4f4" opacity="0.7"/>
<ellipse cx="595.70" cy="666.88" rx="8.64" ry="7.50" fill="#9c9c9c" opacity="0.6"/>
<rect x="625.80" y="618.50" width="4.00" height="11.50" fill="#505050"/>
<rect x="627.00" y="620.50" width="1.60" height="9.50" fill="#8a8a8a"/>
<path d="M623.00,690.30 Q621.00,706.30 619.80,715.65 T616.60,731.3" fill="none" stroke="#c4c4c4" stroke-width="1.8"/>
<path d="M628.16,629.00 C628.80,629.21 629.44,631.43 629.84,632.80 C630.24,634.17 630.56,635.75 630.56,637.23 C630.56,638.71 629.20,640.34 629.84,641.66 C630.48,642.98 633.82,644.09 634.40,645.14 C634.98,646.20 633.12,645.93 633.32,647.99 C633.52,650.05 635.02,653.26 635.60,657.49 C636.18,661.71 636.50,668.98 636.80,673.31 C637.10,677.64 636.06,680.64 637.40,683.44 C638.74,686.23 645.04,688.77 644.84,690.08 C644.64,691.40 639.04,690.98 636.20,691.35 C633.36,691.72 630.60,692.62 627.80,692.30 C625.00,691.98 621.72,691.56 619.40,689.45 C617.08,687.34 615.08,683.91 613.88,679.64 C612.68,675.37 612.20,668.77 612.20,663.81 C612.20,658.86 613.46,653.11 613.88,649.89 C614.30,646.67 615.38,645.99 614.72,644.51 C614.06,643.03 609.58,641.92 609.92,641.03 C610.26,640.13 614.76,640.08 616.76,639.13 C618.76,638.18 620.38,636.60 621.92,635.33 C623.46,634.06 624.96,632.59 626.00,631.53 C627.04,630.48 627.52,628.79 628.16,629.00Z" fill="#e6e6e6"/>
<ellipse cx="628.40" cy="655.59" rx="5.40" ry="7.60" fill="#bcbcbc" opacity="0.3"/>
<ellipse cx="619.40" cy="678.37" rx="5.40" ry="6.33" fill="#b0b0b0" opacity="0.3"/>
<ellipse cx="623.00" cy="641.66" rx="6.60" ry="6.33" fill="#f4f4f4" opacity="0.7"/>
<ellipse cx="623.20" cy="668.25" rx="8.64" ry="7.60" fill="#9c9c9c" opacity="0.6"/>
<rect x="653.10" y="618.50" width="4.00" height="10.00" fill="#505050"/>
<rect x="654.30" y="620.50" width="1.60" height="8.00" fill="#8a8a8a"/>
<path d="M646.50,688.00 Q644.50,704.00 641.50,714.50 T636.50,731.3" fill="none" stroke="#c4c4c4" stroke-width="1.8"/>
<path d="M655.44,627.50 C656.06,627.71 656.67,629.90 657.05,631.25 C657.44,632.60 657.75,634.17 657.75,635.62 C657.75,637.08 656.44,638.70 657.05,640.00 C657.67,641.30 660.68,642.40 661.42,643.44 C662.17,644.48 661.16,644.22 661.54,646.25 C661.92,648.28 663.17,651.46 663.72,655.62 C664.28,659.79 664.59,666.98 664.88,671.25 C665.16,675.52 664.17,678.49 665.45,681.25 C666.73,684.01 672.77,686.51 672.58,687.81 C672.39,689.11 667.02,688.70 664.30,689.06 C661.58,689.43 658.93,690.31 656.25,690.00 C653.57,689.69 650.42,689.27 648.20,687.19 C645.98,685.10 644.06,681.72 642.91,677.50 C641.76,673.28 641.30,666.77 641.30,661.88 C641.30,656.98 642.70,651.30 642.91,648.12 C643.12,644.95 643.39,644.27 642.56,642.81 C641.74,641.35 637.64,640.26 637.96,639.38 C638.29,638.49 642.60,638.44 644.52,637.50 C646.44,636.56 647.99,635.00 649.46,633.75 C650.94,632.50 652.38,631.04 653.38,630.00 C654.37,628.96 654.83,627.29 655.44,627.50Z" fill="#e6e6e6"/>
<ellipse cx="656.82" cy="653.75" rx="5.17" ry="7.50" fill="#bcbcbc" opacity="0.3"/>
<ellipse cx="648.20" cy="676.25" rx="5.17" ry="6.25" fill="#b0b0b0" opacity="0.3"/>
<ellipse cx="651.65" cy="640.00" rx="6.33" ry="6.25" fill="#f4f4f4" opacity="0.7"/>
<ellipse cx="651.80" cy="666.25" rx="8.28" ry="7.50" fill="#9c9c9c" opacity="0.6"/>
<text x="438.50" y="749.00" font-size="8.5" text-anchor="middle">Day 3</text>
<text x="588.60" y="749.00" font-size="8.6" text-anchor="middle">Day 14</text>
<rect x="415.60" y="838.80" width="16.30" height="3.53" fill="#c0c0c0"/>
<rect x="435.00" y="838.80" width="16.70" height="3.53" fill="#2e75b6"/>
<rect x="458.00" y="838.80" width="16.20" height="3.53" fill="#c80000"/>
<rect x="415.60" y="842.33" width="16.30" height="3.53" fill="#c0c0c0"/>
<rect x="435.00" y="842.33" width="16.70" height="3.53" fill="#c0c0c0"/>
<rect x="458.00" y="842.33" width="16.20" height="3.53" fill="#c80000"/>
<rect x="415.60" y="845.86" width="16.30" height="3.53" fill="#c0c0c0"/>
<rect x="435.00" y="845.86" width="16.70" height="3.53" fill="#2e75b6"/>
<rect x="458.00" y="845.86" width="16.20" height="3.53" fill="#c80000"/>
<rect x="415.60" y="849.39" width="16.30" height="3.53" fill="#c0c0c0"/>
<rect x="435.00" y="849.39" width="16.70" height="3.53" fill="#2e75b6"/>
<rect x="458.00" y="849.39" width="16.20" height="3.53" fill="#c80000"/>
<rect x="415.60" y="852.91" width="16.30" height="3.53" fill="#7030a0"/>
<rect x="435.00" y="852.91" width="16.70" height="3.53" fill="#2e75b6"/>
<rect x="458.00" y="852.91" width="16.20" height="3.53" fill="#c80000"/>
<rect x="415.60" y="856.44" width="16.30" height="3.53" fill="#c0c0c0"/>
<rect x="435.00" y="856.44" width="16.70" height="3.53" fill="#c0c0c0"/>
<rect x="458.00" y="856.44" width="16.20" height="3.53" fill="#c80000"/>
<rect x="415.60" y="859.97" width="16.30" height="3.53" fill="#c0c0c0"/>
<rect x="435.00" y="859.97" width="16.70" height="3.53" fill="#2e75b6"/>
<rect x="458.00" y="859.97" width="16.20" height="3.53" fill="#c80000"/>
<rect x="415.60" y="863.50" width="16.30" height="3.53" fill="#7030a0"/>
<rect x="435.00" y="863.50" width="16.70" height="3.53" fill="#2e75b6"/>
<rect x="458.00" y="863.50" width="16.20" height="3.53" fill="#c80000"/>
<rect x="415.60" y="867.03" width="16.30" height="3.53" fill="#c0c0c0"/>
<rect x="435.00" y="867.03" width="16.70" height="3.53" fill="#2e75b6"/>
<rect x="458.00" y="867.03" width="16.20" height="3.53" fill="#c80000"/>
<rect x="415.60" y="870.56" width="16.30" height="3.53" fill="#7030a0"/>
<rect x="435.00" y="870.56" width="16.70" height="3.53" fill="#2e75b6"/>
<rect x="458.00" y="870.56" width="16.20" height="3.53" fill="#c80000"/>
<rect x="415.60" y="874.09" width="16.30" height="3.53" fill="#c0c0c0"/>
<rect x="435.00" y="874.09" width="16.70" height="3.53" fill="#c0c0c0"/>
<rect x="458.00" y="874.09" width="16.20" height="3.53" fill="#c80000"/>
<rect x="415.60" y="877.61" width="16.30" height="3.53" fill="#c0c0c0"/>
<rect x="435.00" y="877.61" width="16.70" height="3.53" fill="#2e75b6"/>
<rect x="458.00" y="877.61" width="16.20" height="3.53" fill="#ee7d31"/>
<rect x="415.60" y="881.14" width="16.30" height="3.53" fill="#c0c0c0"/>
<rect x="435.00" y="881.14" width="16.70" height="3.53" fill="#c0c0c0"/>
<rect x="458.00" y="881.14" width="16.20" height="3.53" fill="#ee7d31"/>
<rect x="415.60" y="884.67" width="16.30" height="3.53" fill="#c0c0c0"/>
<rect x="435.00" y="884.67" width="16.70" height="3.53" fill="#c0c0c0"/>
<rect x="458.00" y="884.67" width="16.20" height="3.53" fill="#ee7d31"/>
<rect x="415.60" y="888.20" width="16.30" height="3.53" fill="#c0c0c0"/>
<rect x="435.00" y="888.20" width="16.70" height="3.53" fill="#2e75b6"/>
<rect x="458.00" y="888.20" width="16.20" height="3.53" fill="#ee7d31"/>
<rect x="415.60" y="891.73" width="16.30" height="3.53" fill="#c0c0c0"/>
<rect x="435.00" y="891.73" width="16.70" height="3.53" fill="#c0c0c0"/>
<rect x="458.00" y="891.73" width="16.20" height="3.53" fill="#ee7d31"/>
<rect x="415.60" y="895.26" width="16.30" height="3.53" fill="#c0c0c0"/>
<rect x="435.00" y="895.26" width="16.70" height="3.53" fill="#c0c0c0"/>
<rect x="458.00" y="895.26" width="16.20" height="3.53" fill="#ee7d31"/>
<rect x="415.60" y="898.79" width="16.30" height="3.53" fill="#c0c0c0"/>
<rect x="435.00" y="898.79" width="16.70" height="3.53" fill="#c0c0c0"/>
<rect x="458.00" y="898.79" width="16.20" height="3.53" fill="#ee7d31"/>
<rect x="415.60" y="902.31" width="16.30" height="3.53" fill="#c0c0c0"/>
<rect x="435.00" y="902.31" width="16.70" height="3.53" fill="#c0c0c0"/>
<rect x="458.00" y="902.31" width="16.20" height="3.53" fill="#ee7d31"/>
<rect x="415.60" y="905.84" width="16.30" height="3.53" fill="#c0c0c0"/>
<rect x="435.00" y="905.84" width="16.70" height="3.53" fill="#2e75b6"/>
<rect x="458.00" y="905.84" width="16.20" height="3.53" fill="#ee7d31"/>
<rect x="415.60" y="909.37" width="16.30" height="3.53" fill="#7030a0"/>
<rect x="435.00" y="909.37" width="16.70" height="3.53" fill="#2e75b6"/>
<rect x="458.00" y="909.37" width="16.20" height="3.53" fill="#f7cbac"/>
<rect x="415.60" y="912.90" width="16.30" height="3.53" fill="#c0c0c0"/>
<rect x="435.00" y="912.90" width="16.70" height="3.53" fill="#c0c0c0"/>
<rect x="458.00" y="912.90" width="16.20" height="3.53" fill="#f7cbac"/>
<rect x="415.60" y="916.43" width="16.30" height="3.53" fill="#c0c0c0"/>
<rect x="435.00" y="916.43" width="16.70" height="3.53" fill="#c0c0c0"/>
<rect x="458.00" y="916.43" width="16.20" height="3.53" fill="#f7cbac"/>
<rect x="415.60" y="919.96" width="16.30" height="3.53" fill="#c0c0c0"/>
<rect x="435.00" y="919.96" width="16.70" height="3.53" fill="#c0c0c0"/>
<rect x="458.00" y="919.96" width="16.20" height="3.53" fill="#f7cbac"/>
<rect x="415.60" y="923.49" width="16.30" height="3.53" fill="#c0c0c0"/>
<rect x="435.00" y="923.49" width="16.70" height="3.53" fill="#2e75b6"/>
<rect x="458.00" y="923.49" width="16.20" height="3.53" fill="#f7cbac"/>
<rect x="415.60" y="927.01" width="16.30" height="3.53" fill="#c0c0c0"/>
<rect x="435.00" y="927.01" width="16.70" height="3.53" fill="#c0c0c0"/>
<rect x="458.00" y="927.01" width="16.20" height="3.53" fill="#f7cbac"/>
<rect x="415.60" y="930.54" width="16.30" height="3.53" fill="#c0c0c0"/>
<rect x="435.00" y="930.54" width="16.70" height="3.53" fill="#2e75b6"/>
<rect x="458.00" y="930.54" width="16.20" height="3.53" fill="#f7cbac"/>
<rect x="415.60" y="934.07" width="16.30" height="3.53" fill="#c0c0c0"/>
<rect x="435.00" y="934.07" width="16.70" height="3.53" fill="#2e75b6"/>
<rect x="458.00" y="934.07" width="16.20" height="3.53" fill="#f7cbac"/>
<rect x="415.60" y="937.60" width="16.30" height="3.53" fill="#c0c0c0"/>
<rect x="435.00" y="937.60" width="16.70" height="3.53" fill="#c0c0c0"/>
<rect x="458.00" y="937.60" width="16.20" height="3.53" fill="#f7cbac"/>
<rect x="415.60" y="941.13" width="16.30" height="3.53" fill="#c0c0c0"/>
<rect x="435.00" y="941.13" width="16.70" height="3.53" fill="#c0c0c0"/>
<rect x="458.00" y="941.13" width="16.20" height="3.53" fill="#f7cbac"/>
<rect x="415.60" y="944.66" width="16.30" height="3.53" fill="#c0c0c0"/>
<rect x="435.00" y="944.66" width="16.70" height="3.53" fill="#2e75b6"/>
<rect x="458.00" y="944.66" width="16.20" height="3.53" fill="#f7cbac"/>
<rect x="415.60" y="948.19" width="16.30" height="3.53" fill="#c0c0c0"/>
<rect x="435.00" y="948.19" width="16.70" height="3.53" fill="#2e75b6"/>
<rect x="458.00" y="948.19" width="16.20" height="3.53" fill="#f7cbac"/>
<rect x="415.60" y="951.71" width="16.30" height="3.53" fill="#c0c0c0"/>
<rect x="435.00" y="951.71" width="16.70" height="3.53" fill="#c0c0c0"/>
<rect x="458.00" y="951.71" width="16.20" height="3.53" fill="#f7cbac"/>
<rect x="415.60" y="955.24" width="16.30" height="3.53" fill="#c0c0c0"/>
<rect x="435.00" y="955.24" width="16.70" height="3.53" fill="#c0c0c0"/>
<rect x="458.00" y="955.24" width="16.20" height="3.53" fill="#f7cbac"/>
<rect x="415.60" y="958.77" width="16.30" height="3.53" fill="#c0c0c0"/>
<rect x="435.00" y="958.77" width="16.70" height="3.53" fill="#c0c0c0"/>
<rect x="458.00" y="958.77" width="16.20" height="3.53" fill="#f7cbac"/>
<rect x="415.60" y="962.30" width="16.30" height="3.53" fill="#c0c0c0"/>
<rect x="435.00" y="962.30" width="16.70" height="3.53" fill="#c0c0c0"/>
<rect x="458.00" y="962.30" width="16.20" height="3.53" fill="#f7cbac"/>
<rect x="415.60" y="965.83" width="16.30" height="3.53" fill="#c0c0c0"/>
<rect x="435.00" y="965.83" width="16.70" height="3.53" fill="#2e75b6"/>
<rect x="458.00" y="965.83" width="16.20" height="3.53" fill="#f7cbac"/>
<rect x="415.60" y="969.36" width="16.30" height="3.53" fill="#c0c0c0"/>
<rect x="435.00" y="969.36" width="16.70" height="3.53" fill="#2e75b6"/>
<rect x="458.00" y="969.36" width="16.20" height="3.53" fill="#f7cbac"/>
<rect x="415.60" y="972.89" width="16.30" height="3.53" fill="#c0c0c0"/>
<rect x="435.00" y="972.89" width="16.70" height="3.53" fill="#c0c0c0"/>
<rect x="458.00" y="972.89" width="16.20" height="3.53" fill="#f7cbac"/>
<rect x="415.60" y="976.41" width="16.30" height="3.53" fill="#c0c0c0"/>
<rect x="435.00" y="976.41" width="16.70" height="3.53" fill="#2e75b6"/>
<rect x="458.00" y="976.41" width="16.20" height="3.53" fill="#f7cbac"/>
<rect x="415.60" y="979.94" width="16.30" height="3.53" fill="#c0c0c0"/>
<rect x="435.00" y="979.94" width="16.70" height="3.53" fill="#c0c0c0"/>
<rect x="458.00" y="979.94" width="16.20" height="3.53" fill="#f7cbac"/>
<rect x="415.60" y="983.47" width="16.30" height="3.53" fill="#7030a0"/>
<rect x="435.00" y="983.47" width="16.70" height="3.53" fill="#2e75b6"/>
<rect x="458.00" y="983.47" width="16.20" height="3.53" fill="#f7cbac"/>
<rect x="415.60" y="987.00" width="16.30" height="3.53" fill="#c0c0c0"/>
<rect x="435.00" y="987.00" width="16.70" height="3.53" fill="#2e75b6"/>
<rect x="458.00" y="987.00" width="16.20" height="3.53" fill="#f7cbac"/>
<rect x="415.60" y="990.53" width="16.30" height="3.53" fill="#c0c0c0"/>
<rect x="435.00" y="990.53" width="16.70" height="3.53" fill="#c0c0c0"/>
<rect x="458.00" y="990.53" width="16.20" height="3.53" fill="#f7cbac"/>
<rect x="415.60" y="994.06" width="16.30" height="3.53" fill="#c0c0c0"/>
<rect x="435.00" y="994.06" width="16.70" height="3.53" fill="#2e75b6"/>
<rect x="458.00" y="994.06" width="16.20" height="3.53" fill="#f7cbac"/>
<rect x="415.60" y="997.59" width="16.30" height="3.53" fill="#c0c0c0"/>
<rect x="435.00" y="997.59" width="16.70" height="3.53" fill="#2e75b6"/>
<rect x="458.00" y="997.59" width="16.20" height="3.53" fill="#f7cbac"/>
<rect x="415.60" y="1001.11" width="16.30" height="3.53" fill="#c0c0c0"/>
<rect x="435.00" y="1001.11" width="16.70" height="3.53" fill="#c0c0c0"/>
<rect x="458.00" y="1001.11" width="16.20" height="3.53" fill="#f7cbac"/>
<rect x="415.60" y="1004.64" width="16.30" height="3.53" fill="#c0c0c0"/>
<rect x="435.00" y="1004.64" width="16.70" height="3.53" fill="#c0c0c0"/>
<rect x="458.00" y="1004.64" width="16.20" height="3.53" fill="#f7cbac"/>
<rect x="415.60" y="1008.17" width="16.30" height="3.53" fill="#c0c0c0"/>
<rect x="435.00" y="1008.17" width="16.70" height="3.53" fill="#2e75b6"/>
<rect x="458.00" y="1008.17" width="16.20" height="3.53" fill="#f7cbac"/>
<rect x="415.60" y="1011.70" width="16.30" height="3.53" fill="#c0c0c0"/>
<rect x="435.00" y="1011.70" width="16.70" height="3.53" fill="#c0c0c0"/>
<rect x="458.00" y="1011.70" width="16.20" height="3.53" fill="#f7cbac"/>
<rect x="415.60" y="1015.23" width="16.30" height="3.53" fill="#c0c0c0"/>
<rect x="435.00" y="1015.23" width="16.70" height="3.53" fill="#c0c0c0"/>
<rect x="458.00" y="1015.23" width="16.20" height="3.53" fill="#f7cbac"/>
<rect x="415.60" y="1018.76" width="16.30" height="3.53" fill="#c0c0c0"/>
<rect x="435.00" y="1018.76" width="16.70" height="3.53" fill="#c0c0c0"/>
<rect x="458.00" y="1018.76" width="16.20" height="3.53" fill="#f7cbac"/>
<rect x="415.60" y="1022.29" width="16.30" height="3.53" fill="#c0c0c0"/>
<rect x="435.00" y="1022.29" width="16.70" height="3.53" fill="#c0c0c0"/>
<rect x="458.00" y="1022.29" width="16.20" height="3.53" fill="#f7cbac"/>
<rect x="415.60" y="1025.81" width="16.30" height="3.53" fill="#c0c0c0"/>
<rect x="435.00" y="1025.81" width="16.70" height="3.53" fill="#2e75b6"/>
<rect x="458.00" y="1025.81" width="16.20" height="3.53" fill="#f7cbac"/>
<rect x="415.60" y="1029.34" width="16.30" height="3.53" fill="#7030a0"/>
<rect x="435.00" y="1029.34" width="16.70" height="3.53" fill="#2e75b6"/>
<rect x="458.00" y="1029.34" width="16.20" height="3.53" fill="#f7cbac"/>
<rect x="415.60" y="1032.87" width="16.30" height="3.53" fill="#c0c0c0"/>
<rect x="435.00" y="1032.87" width="16.70" height="3.53" fill="#2e75b6"/>
<rect x="458.00" y="1032.87" width="16.20" height="3.53" fill="#f7cbac"/>
<line x1="415.60" y1="842.33" x2="431.90" y2="842.33" stroke="#ffffff" stroke-width="0.5" opacity="0.45"/>
<line x1="435.00" y1="842.33" x2="451.70" y2="842.33" stroke="#ffffff" stroke-width="0.5" opacity="0.45"/>
<line x1="458.00" y1="842.33" x2="474.20" y2="842.33" stroke="#ffffff" stroke-width="0.5" opacity="0.35"/>
<line x1="415.60" y1="845.86" x2="431.90" y2="845.86" stroke="#ffffff" stroke-width="0.5" opacity="0.45"/>
<line x1="435.00" y1="845.86" x2="451.70" y2="845.86" stroke="#ffffff" stroke-width="0.5" opacity="0.45"/>
<line x1="458.00" y1="845.86" x2="474.20" y2="845.86" stroke="#ffffff" stroke-width="0.5" opacity="0.35"/>
<line x1="415.60" y1="849.39" x2="431.90" y2="849.39" stroke="#ffffff" stroke-width="0.5" opacity="0.45"/>
<line x1="435.00" y1="849.39" x2="451.70" y2="849.39" stroke="#ffffff" stroke-width="0.5" opacity="0.45"/>
<line x1="458.00" y1="849.39" x2="474.20" y2="849.39" stroke="#ffffff" stroke-width="0.5" opacity="0.35"/>
<line x1="415.60" y1="852.91" x2="431.90" y2="852.91" stroke="#ffffff" stroke-width="0.5" opacity="0.45"/>
<line x1="435.00" y1="852.91" x2="451.70" y2="852.91" stroke="#ffffff" stroke-width="0.5" opacity="0.45"/>
<line x1="458.00" y1="852.91" x2="474.20" y2="852.91" stroke="#ffffff" stroke-width="0.5" opacity="0.35"/>
<line x1="415.60" y1="856.44" x2="431.90" y2="856.44" stroke="#ffffff" stroke-width="0.5" opacity="0.45"/>
<line x1="435.00" y1="856.44" x2="451.70" y2="856.44" stroke="#ffffff" stroke-width="0.5" opacity="0.45"/>
<line x1="458.00" y1="856.44" x2="474.20" y2="856.44" stroke="#ffffff" stroke-width="0.5" opacity="0.35"/>
<line x1="415.60" y1="859.97" x2="431.90" y2="859.97" stroke="#ffffff" stroke-width="0.5" opacity="0.45"/>
<line x1="435.00" y1="859.97" x2="451.70" y2="859.97" stroke="#ffffff" stroke-width="0.5" opacity="0.45"/>
<line x1="458.00" y1="859.97" x2="474.20" y2="859.97" stroke="#ffffff" stroke-width="0.5" opacity="0.35"/>
<line x1="415.60" y1="863.50" x2="431.90" y2="863.50" stroke="#ffffff" stroke-width="0.5" opacity="0.45"/>
<line x1="435.00" y1="863.50" x2="451.70" y2="863.50" stroke="#ffffff" stroke-width="0.5" opacity="0.45"/>
<line x1="458.00" y1="863.50" x2="474.20" y2="863.50" stroke="#ffffff" stroke-width="0.5" opacity="0.35"/>
<line x1="415.60" y1="867.03" x2="431.90" y2="867.03" stroke="#ffffff" stroke-width="0.5" opacity="0.45"/>
<line x1="435.00" y1="867.03" x2="451.70" y2="867.03" stroke="#ffffff" stroke-width="0.5" opacity="0.45"/>
<line x1="458.00" y1="867.03" x2="474.20" y2="867.03" stroke="#ffffff" stroke-width="0.5" opacity="0.35"/>
<line x1="415.60" y1="870.56" x2="431.90" y2="870.56" stroke="#ffffff" stroke-width="0.5" opacity="0.45"/>
<line x1="435.00" y1="870.56" x2="451.70" y2="870.56" stroke="#ffffff" stroke-width="0.5" opacity="0.45"/>
<line x1="458.00" y1="870.56" x2="474.20" y2="870.56" stroke="#ffffff" stroke-width="0.5" opacity="0.35"/>
<line x1="415.60" y1="874.09" x2="431.90" y2="874.09" stroke="#ffffff" stroke-width="0.5" opacity="0.45"/>
<line x1="435.00" y1="874.09" x2="451.70" y2="874.09" stroke="#ffffff" stroke-width="0.5" opacity="0.45"/>
<line x1="458.00" y1="874.09" x2="474.20" y2="874.09" stroke="#ffffff" stroke-width="0.5" opacity="0.35"/>
<line x1="415.60" y1="877.61" x2="431.90" y2="877.61" stroke="#ffffff" stroke-width="0.5" opacity="0.45"/>
<line x1="435.00" y1="877.61" x2="451.70" y2="877.61" stroke="#ffffff" stroke-width="0.5" opacity="0.45"/>
<line x1="458.00" y1="877.61" x2="474.20" y2="877.61" stroke="#ffffff" stroke-width="0.5" opacity="0.35"/>
<line x1="415.60" y1="881.14" x2="431.90" y2="881.14" stroke="#ffffff" stroke-width="0.5" opacity="0.45"/>
<line x1="435.00" y1="881.14" x2="451.70" y2="881.14" stroke="#ffffff" stroke-width="0.5" opacity="0.45"/>
<line x1="458.00" y1="881.14" x2="474.20" y2="881.14" stroke="#ffffff" stroke-width="0.5" opacity="0.35"/>
<line x1="415.60" y1="884.67" x2="431.90" y2="884.67" stroke="#ffffff" stroke-width="0.5" opacity="0.45"/>
<line x1="435.00" y1="884.67" x2="451.70" y2="884.67" stroke="#ffffff" stroke-width="0.5" opacity="0.45"/>
<line x1="458.00" y1="884.67" x2="474.20" y2="884.67" stroke="#ffffff" stroke-width="0.5" opacity="0.35"/>
<line x1="415.60" y1="888.20" x2="431.90" y2="888.20" stroke="#ffffff" stroke-width="0.5" opacity="0.45"/>
<line x1="435.00" y1="888.20" x2="451.70" y2="888.20" stroke="#ffffff" stroke-width="0.5" opacity="0.45"/>
<line x1="458.00" y1="888.20" x2="474.20" y2="888.20" stroke="#ffffff" stroke-width="0.5" opacity="0.35"/>
<line x1="415.60" y1="891.73" x2="431.90" y2="891.73" stroke="#ffffff" stroke-width="0.5" opacity="0.45"/>
<line x1="435.00" y1="891.73" x2="451.70" y2="891.73" stroke="#ffffff" stroke-width="0.5" opacity="0.45"/>
<line x1="458.00" y1="891.73" x2="474.20" y2="891.73" stroke="#ffffff" stroke-width="0.5" opacity="0.35"/>
<line x1="415.60" y1="895.26" x2="431.90" y2="895.26" stroke="#ffffff" stroke-width="0.5" opacity="0.45"/>
<line x1="435.00" y1="895.26" x2="451.70" y2="895.26" stroke="#ffffff" stroke-width="0.5" opacity="0.45"/>
<line x1="458.00" y1="895.26" x2="474.20" y2="895.26" stroke="#ffffff" stroke-width="0.5" opacity="0.35"/>
<line x1="415.60" y1="898.79" x2="431.90" y2="898.79" stroke="#ffffff" stroke-width="0.5" opacity="0.45"/>
<line x1="435.00" y1="898.79" x2="451.70" y2="898.79" stroke="#ffffff" stroke-width="0.5" opacity="0.45"/>
<line x1="458.00" y1="898.79" x2="474.20" y2="898.79" stroke="#ffffff" stroke-width="0.5" opacity="0.35"/>
<line x1="415.60" y1="902.31" x2="431.90" y2="902.31" stroke="#ffffff" stroke-width="0.5" opacity="0.45"/>
<line x1="435.00" y1="902.31" x2="451.70" y2="902.31" stroke="#ffffff" stroke-width="0.5" opacity="0.45"/>
<line x1="458.00" y1="902.31" x2="474.20" y2="902.31" stroke="#ffffff" stroke-width="0.5" opacity="0.35"/>
<line x1="415.60" y1="905.84" x2="431.90" y2="905.84" stroke="#ffffff" stroke-width="0.5" opacity="0.45"/>
<line x1="435.00" y1="905.84" x2="451.70" y2="905.84" stroke="#ffffff" stroke-width="0.5" opacity="0.45"/>
<line x1="458.00" y1="905.84" x2="474.20" y2="905.84" stroke="#ffffff" stroke-width="0.5" opacity="0.35"/>
<line x1="415.60" y1="909.37" x2="431.90" y2="909.37" stroke="#ffffff" stroke-width="0.5" opacity="0.45"/>
<line x1="435.00" y1="909.37" x2="451.70" y2="909.37" stroke="#ffffff" stroke-width="0.5" opacity="0.45"/>
<line x1="458.00" y1="909.37" x2="474.20" y2="909.37" stroke="#ffffff" stroke-width="0.5" opacity="0.35"/>
<line x1="415.60" y1="912.90" x2="431.90" y2="912.90" stroke="#ffffff" stroke-width="0.5" opacity="0.45"/>
<line x1="435.00" y1="912.90" x2="451.70" y2="912.90" stroke="#ffffff" stroke-width="0.5" opacity="0.45"/>
<line x1="458.00" y1="912.90" x2="474.20" y2="912.90" stroke="#ffffff" stroke-width="0.5" opacity="0.35"/>
<line x1="415.60" y1="916.43" x2="431.90" y2="916.43" stroke="#ffffff" stroke-width="0.5" opacity="0.45"/>
<line x1="435.00" y1="916.43" x2="451.70" y2="916.43" stroke="#ffffff" stroke-width="0.5" opacity="0.45"/>
<line x1="458.00" y1="916.43" x2="474.20" y2="916.43" stroke="#ffffff" stroke-width="0.5" opacity="0.35"/>
<line x1="415.60" y1="919.96" x2="431.90" y2="919.96" stroke="#ffffff" stroke-width="0.5" opacity="0.45"/>
<line x1="435.00" y1="919.96" x2="451.70" y2="919.96" stroke="#ffffff" stroke-width="0.5" opacity="0.45"/>
<line x1="458.00" y1="919.96" x2="474.20" y2="919.96" stroke="#ffffff" stroke-width="0.5" opacity="0.35"/>
<line x1="415.60" y1="923.49" x2="431.90" y2="923.49" stroke="#ffffff" stroke-width="0.5" opacity="0.45"/>
<line x1="435.00" y1="923.49" x2="451.70" y2="923.49" stroke="#ffffff" stroke-width="0.5" opacity="0.45"/>
<line x1="458.00" y1="923.49" x2="474.20" y2="923.49" stroke="#ffffff" stroke-width="0.5" opacity="0.35"/>
<line x1="415.60" y1="927.01" x2="431.90" y2="927.01" stroke="#ffffff" stroke-width="0.5" opacity="0.45"/>
<line x1="435.00" y1="927.01" x2="451.70" y2="927.01" stroke="#ffffff" stroke-width="0.5" opacity="0.45"/>
<line x1="458.00" y1="927.01" x2="474.20" y2="927.01" stroke="#ffffff" stroke-width="0.5" opacity="0.35"/>
<line x1="415.60" y1="930.54" x2="431.90" y2="930.54" stroke="#ffffff" stroke-width="0.5" opacity="0.45"/>
<line x1="435.00" y1="930.54" x2="451.70" y2="930.54" stroke="#ffffff" stroke-width="0.5" opacity="0.45"/>
<line x1="458.00" y1="930.54" x2="474.20" y2="930.54" stroke="#ffffff" stroke-width="0.5" opacity="0.35"/>
<line x1="415.60" y1="934.07" x2="431.90" y2="934.07" stroke="#ffffff" stroke-width="0.5" opacity="0.45"/>
<line x1="435.00" y1="934.07" x2="451.70" y2="934.07" stroke="#ffffff" stroke-width="0.5" opacity="0.45"/>
<line x1="458.00" y1="934.07" x2="474.20" y2="934.07" stroke="#ffffff" stroke-width="0.5" opacity="0.35"/>
<line x1="415.60" y1="937.60" x2="431.90" y2="937.60" stroke="#ffffff" stroke-width="0.5" opacity="0.45"/>
<line x1="435.00" y1="937.60" x2="451.70" y2="937.60" stroke="#ffffff" stroke-width="0.5" opacity="0.45"/>
<line x1="458.00" y1="937.60" x2="474.20" y2="937.60" stroke="#ffffff" stroke-width="0.5" opacity="0.35"/>
<line x1="415.60" y1="941.13" x2="431.90" y2="941.13" stroke="#ffffff" stroke-width="0.5" opacity="0.45"/>
<line x1="435.00" y1="941.13" x2="451.70" y2="941.13" stroke="#ffffff" stroke-width="0.5" opacity="0.45"/>
<line x1="458.00" y1="941.13" x2="474.20" y2="941.13" stroke="#ffffff" stroke-width="0.5" opacity="0.35"/>
<line x1="415.60" y1="944.66" x2="431.90" y2="944.66" stroke="#ffffff" stroke-width="0.5" opacity="0.45"/>
<line x1="435.00" y1="944.66" x2="451.70" y2="944.66" stroke="#ffffff" stroke-width="0.5" opacity="0.45"/>
<line x1="458.00" y1="944.66" x2="474.20" y2="944.66" stroke="#ffffff" stroke-width="0.5" opacity="0.35"/>
<line x1="415.60" y1="948.19" x2="431.90" y2="948.19" stroke="#ffffff" stroke-width="0.5" opacity="0.45"/>
<line x1="435.00" y1="948.19" x2="451.70" y2="948.19" stroke="#ffffff" stroke-width="0.5" opacity="0.45"/>
<line x1="458.00" y1="948.19" x2="474.20" y2="948.19" stroke="#ffffff" stroke-width="0.5" opacity="0.35"/>
<line x1="415.60" y1="951.71" x2="431.90" y2="951.71" stroke="#ffffff" stroke-width="0.5" opacity="0.45"/>
<line x1="435.00" y1="951.71" x2="451.70" y2="951.71" stroke="#ffffff" stroke-width="0.5" opacity="0.45"/>
<line x1="458.00" y1="951.71" x2="474.20" y2="951.71" stroke="#ffffff" stroke-width="0.5" opacity="0.35"/>
<line x1="415.60" y1="955.24" x2="431.90" y2="955.24" stroke="#ffffff" stroke-width="0.5" opacity="0.45"/>
<line x1="435.00" y1="955.24" x2="451.70" y2="955.24" stroke="#ffffff" stroke-width="0.5" opacity="0.45"/>
<line x1="458.00" y1="955.24" x2="474.20" y2="955.24" stroke="#ffffff" stroke-width="0.5" opacity="0.35"/>
<line x1="415.60" y1="958.77" x2="431.90" y2="958.77" stroke="#ffffff" stroke-width="0.5" opacity="0.45"/>
<line x1="435.00" y1="958.77" x2="451.70" y2="958.77" stroke="#ffffff" stroke-width="0.5" opacity="0.45"/>
<line x1="458.00" y1="958.77" x2="474.20" y2="958.77" stroke="#ffffff" stroke-width="0.5" opacity="0.35"/>
<line x1="415.60" y1="962.30" x2="431.90" y2="962.30" stroke="#ffffff" stroke-width="0.5" opacity="0.45"/>
<line x1="435.00" y1="962.30" x2="451.70" y2="962.30" stroke="#ffffff" stroke-width="0.5" opacity="0.45"/>
<line x1="458.00" y1="962.30" x2="474.20" y2="962.30" stroke="#ffffff" stroke-width="0.5" opacity="0.35"/>
<line x1="415.60" y1="965.83" x2="431.90" y2="965.83" stroke="#ffffff" stroke-width="0.5" opacity="0.45"/>
<line x1="435.00" y1="965.83" x2="451.70" y2="965.83" stroke="#ffffff" stroke-width="0.5" opacity="0.45"/>
<line x1="458.00" y1="965.83" x2="474.20" y2="965.83" stroke="#ffffff" stroke-width="0.5" opacity="0.35"/>
<line x1="415.60" y1="969.36" x2="431.90" y2="969.36" stroke="#ffffff" stroke-width="0.5" opacity="0.45"/>
<line x1="435.00" y1="969.36" x2="451.70" y2="969.36" stroke="#ffffff" stroke-width="0.5" opacity="0.45"/>
<line x1="458.00" y1="969.36" x2="474.20" y2="969.36" stroke="#ffffff" stroke-width="0.5" opacity="0.35"/>
<line x1="415.60" y1="972.89" x2="431.90" y2="972.89" stroke="#ffffff" stroke-width="0.5" opacity="0.45"/>
<line x1="435.00" y1="972.89" x2="451.70" y2="972.89" stroke="#ffffff" stroke-width="0.5" opacity="0.45"/>
<line x1="458.00" y1="972.89" x2="474.20" y2="972.89" stroke="#ffffff" stroke-width="0.5" opacity="0.35"/>
<line x1="415.60" y1="976.41" x2="431.90" y2="976.41" stroke="#ffffff" stroke-width="0.5" opacity="0.45"/>
<line x1="435.00" y1="976.41" x2="451.70" y2="976.41" stroke="#ffffff" stroke-width="0.5" opacity="0.45"/>
<line x1="458.00" y1="976.41" x2="474.20" y2="976.41" stroke="#ffffff" stroke-width="0.5" opacity="0.35"/>
<line x1="415.60" y1="979.94" x2="431.90" y2="979.94" stroke="#ffffff" stroke-width="0.5" opacity="0.45"/>
<line x1="435.00" y1="979.94" x2="451.70" y2="979.94" stroke="#ffffff" stroke-width="0.5" opacity="0.45"/>
<line x1="458.00" y1="979.94" x2="474.20" y2="979.94" stroke="#ffffff" stroke-width="0.5" opacity="0.35"/>
<line x1="415.60" y1="983.47" x2="431.90" y2="983.47" stroke="#ffffff" stroke-width="0.5" opacity="0.45"/>
<line x1="435.00" y1="983.47" x2="451.70" y2="983.47" stroke="#ffffff" stroke-width="0.5" opacity="0.45"/>
<line x1="458.00" y1="983.47" x2="474.20" y2="983.47" stroke="#ffffff" stroke-width="0.5" opacity="0.35"/>
<line x1="415.60" y1="987.00" x2="431.90" y2="987.00" stroke="#ffffff" stroke-width="0.5" opacity="0.45"/>
<line x1="435.00" y1="987.00" x2="451.70" y2="987.00" stroke="#ffffff" stroke-width="0.5" opacity="0.45"/>
<line x1="458.00" y1="987.00" x2="474.20" y2="987.00" stroke="#ffffff" stroke-width="0.5" opacity="0.35"/>
<line x1="415.60" y1="990.53" x2="431.90" y2="990.53" stroke="#ffffff" stroke-width="0.5" opacity="0.45"/>
<line x1="435.00" y1="990.53" x2="451.70" y2="990.53" stroke="#ffffff" stroke-width="0.5" opacity="0.45"/>
<line x1="458.00" y1="990.53" x2="474.20" y2="990.53" stroke="#ffffff" stroke-width="0.5" opacity="0.35"/>
<line x1="415.60" y1="994.06" x2="431.90" y2="994.06" stroke="#ffffff" stroke-width="0.5" opacity="0.45"/>
<line x1="435.00" y1="994.06" x2="451.70" y2="994.06" stroke="#ffffff" stroke-width="0.5" opacity="0.45"/>
<line x1="458.00" y1="994.06" x2="474.20" y2="994.06" stroke="#ffffff" stroke-width="0.5" opacity="0.35"/>
<line x1="415.60" y1="997.59" x2="431.90" y2="997.59" stroke="#ffffff" stroke-width="0.5" opacity="0.45"/>
<line x1="435.00" y1="997.59" x2="451.70" y2="997.59" stroke="#ffffff" stroke-width="0.5" opacity="0.45"/>
<line x1="458.00" y1="997.59" x2="474.20" y2="997.59" stroke="#ffffff" stroke-width="0.5" opacity="0.35"/>
<line x1="415.60" y1="1001.11" x2="431.90" y2="1001.11" stroke="#ffffff" stroke-width="0.5" opacity="0.45"/>
<line x1="435.00" y1="1001.11" x2="451.70" y2="1001.11" stroke="#ffffff" stroke-width="0.5" opacity="0.45"/>
<line x1="458.00" y1="1001.11" x2="474.20" y2="1001.11" stroke="#ffffff" stroke-width="0.5" opacity="0.35"/>
<line x1="415.60" y1="1004.64" x2="431.90" y2="1004.64" stroke="#ffffff" stroke-width="0.5" opacity="0.45"/>
<line x1="435.00" y1="1004.64" x2="451.70" y2="1004.64" stroke="#ffffff" stroke-width="0.5" opacity="0.45"/>
<line x1="458.00" y1="1004.64" x2="474.20" y2="1004.64" stroke="#ffffff" stroke-width="0.5" opacity="0.35"/>
<line x1="415.60" y1="1008.17" x2="431.90" y2="1008.17" stroke="#ffffff" stroke-width="0.5" opacity="0.45"/>
<line x1="435.00" y1="1008.17" x2="451.70" y2="1008.17" stroke="#ffffff" stroke-width="0.5" opacity="0.45"/>
<line x1="458.00" y1="1008.17" x2="474.20" y2="1008.17" stroke="#ffffff" stroke-width="0.5" opacity="0.35"/>
<line x1="415.60" y1="1011.70" x2="431.90" y2="1011.70" stroke="#ffffff" stroke-width="0.5" opacity="0.45"/>
<line x1="435.00" y1="1011.70" x2="451.70" y2="1011.70" stroke="#ffffff" stroke-width="0.5" opacity="0.45"/>
<line x1="458.00" y1="1011.70" x2="474.20" y2="1011.70" stroke="#ffffff" stroke-width="0.5" opacity="0.35"/>
<line x1="415.60" y1="1015.23" x2="431.90" y2="1015.23" stroke="#ffffff" stroke-width="0.5" opacity="0.45"/>
<line x1="435.00" y1="1015.23" x2="451.70" y2="1015.23" stroke="#ffffff" stroke-width="0.5" opacity="0.45"/>
<line x1="458.00" y1="1015.23" x2="474.20" y2="1015.23" stroke="#ffffff" stroke-width="0.5" opacity="0.35"/>
<line x1="415.60" y1="1018.76" x2="431.90" y2="1018.76" stroke="#ffffff" stroke-width="0.5" opacity="0.45"/>
<line x1="435.00" y1="1018.76" x2="451.70" y2="1018.76" stroke="#ffffff" stroke-width="0.5" opacity="0.45"/>
<line x1="458.00" y1="1018.76" x2="474.20" y2="1018.76" stroke="#ffffff" stroke-width="0.5" opacity="0.35"/>
<line x1="415.60" y1="1022.29" x2="431.90" y2="1022.29" stroke="#ffffff" stroke-width="0.5" opacity="0.45"/>
<line x1="435.00" y1="1022.29" x2="451.70" y2="1022.29" stroke="#ffffff" stroke-width="0.5" opacity="0.45"/>
<line x1="458.00" y1="1022.29" x2="474.20" y2="1022.29" stroke="#ffffff" stroke-width="0.5" opacity="0.35"/>
<line x1="415.60" y1="1025.81" x2="431.90" y2="1025.81" stroke="#ffffff" stroke-width="0.5" opacity="0.45"/>
<line x1="435.00" y1="1025.81" x2="451.70" y2="1025.81" stroke="#ffffff" stroke-width="0.5" opacity="0.45"/>
<line x1="458.00" y1="1025.81" x2="474.20" y2="1025.81" stroke="#ffffff" stroke-width="0.5" opacity="0.35"/>
<line x1="415.60" y1="1029.34" x2="431.90" y2="1029.34" stroke="#ffffff" stroke-width="0.5" opacity="0.45"/>
<line x1="435.00" y1="1029.34" x2="451.70" y2="1029.34" stroke="#ffffff" stroke-width="0.5" opacity="0.45"/>
<line x1="458.00" y1="1029.34" x2="474.20" y2="1029.34" stroke="#ffffff" stroke-width="0.5" opacity="0.35"/>
<line x1="415.60" y1="1032.87" x2="431.90" y2="1032.87" stroke="#ffffff" stroke-width="0.5" opacity="0.45"/>
<line x1="435.00" y1="1032.87" x2="451.70" y2="1032.87" stroke="#ffffff" stroke-width="0.5" opacity="0.45"/>
<line x1="458.00" y1="1032.87" x2="474.20" y2="1032.87" stroke="#ffffff" stroke-width="0.5" opacity="0.35"/>
<rect x="480.50" y="837.90" width="36.40" height="3.59" fill="#800026"/>
<rect x="516.90" y="837.90" width="36.40" height="3.59" fill="#800026"/>
<rect x="553.30" y="837.90" width="35.30" height="3.59" fill="#800026"/>
<rect x="588.60" y="837.90" width="34.40" height="3.59" fill="#800026"/>
<rect x="480.50" y="841.44" width="36.40" height="3.59" fill="#800026"/>
<rect x="516.90" y="841.44" width="36.40" height="3.59" fill="#800026"/>
<rect x="553.30" y="841.44" width="35.30" height="3.59" fill="#800026"/>
<rect x="588.60" y="841.44" width="34.40" height="3.59" fill="#800026"/>
<rect x="480.50" y="844.98" width="36.40" height="3.59" fill="#800026"/>
<rect x="516.90" y="844.98" width="36.40" height="3.59" fill="#800026"/>
<rect x="553.30" y="844.98" width="35.30" height="3.59" fill="#800026"/>
<rect x="588.60" y="844.98" width="34.40" height="3.59" fill="#800026"/>
<rect x="480.50" y="848.52" width="36.40" height="3.59" fill="#800026"/>
<rect x="516.90" y="848.52" width="36.40" height="3.59" fill="#800026"/>
<rect x="553.30" y="848.52" width="35.30" height="3.59" fill="#800026"/>
<rect x="588.60" y="848.52" width="34.40" height="3.59" fill="#800026"/>
<rect x="480.50" y="852.06" width="36.40" height="3.59" fill="#800026"/>
<rect x="516.90" y="852.06" width="36.40" height="3.59" fill="#800026"/>
<rect x="553.30" y="852.06" width="35.30" height="3.59" fill="#800026"/>
<rect x="588.60" y="852.06" width="34.40" height="3.59" fill="#800026"/>
<rect x="480.50" y="855.61" width="36.40" height="3.59" fill="#800026"/>
<rect x="516.90" y="855.61" width="36.40" height="3.59" fill="#800026"/>
<rect x="553.30" y="855.61" width="35.30" height="3.59" fill="#800026"/>
<rect x="588.60" y="855.61" width="34.40" height="3.59" fill="#800026"/>
<rect x="480.50" y="859.15" width="36.40" height="3.59" fill="#800026"/>
<rect x="516.90" y="859.15" width="36.40" height="3.59" fill="#800026"/>
<rect x="553.30" y="859.15" width="35.30" height="3.59" fill="#800026"/>
<rect x="588.60" y="859.15" width="34.40" height="3.59" fill="#800026"/>
<rect x="480.50" y="862.69" width="36.40" height="3.59" fill="#800026"/>
<rect x="516.90" y="862.69" width="36.40" height="3.59" fill="#800026"/>
<rect x="553.30" y="862.69" width="35.30" height="3.59" fill="#800026"/>
<rect x="588.60" y="862.69" width="34.40" height="3.59" fill="#800026"/>
<rect x="480.50" y="866.23" width="36.40" height="3.59" fill="#800026"/>
<rect x="516.90" y="866.23" width="36.40" height="3.59" fill="#800026"/>
<rect x="553.30" y="866.23" width="35.30" height="3.59" fill="#800026"/>
<rect x="588.60" y="866.23" width="34.40" height="3.59" fill="#800026"/>
<rect x="480.50" y="869.77" width="36.40" height="3.59" fill="#800026"/>
<rect x="516.90" y="869.77" width="36.40" height="3.59" fill="#800026"/>
<rect x="553.30" y="869.77" width="35.30" height="3.59" fill="#800026"/>
<rect x="588.60" y="869.77" width="34.40" height="3.59" fill="#800026"/>
<rect x="480.50" y="873.31" width="36.40" height="3.59" fill="#800026"/>
<rect x="516.90" y="873.31" width="36.40" height="3.59" fill="#800026"/>
<rect x="553.30" y="873.31" width="35.30" height="3.59" fill="#800026"/>
<rect x="588.60" y="873.31" width="34.40" height="3.59" fill="#800026"/>
<rect x="480.50" y="876.85" width="36.40" height="3.59" fill="#e31a1c"/>
<rect x="516.90" y="876.85" width="36.40" height="3.59" fill="#fc4e2a"/>
<rect x="553.30" y="876.85" width="35.30" height="3.59" fill="#fc4e2a"/>
<rect x="588.60" y="876.85" width="34.40" height="3.59" fill="#fd8d3c"/>
<rect x="480.50" y="880.39" width="36.40" height="3.59" fill="#fc4e2a"/>
<rect x="516.90" y="880.39" width="36.40" height="3.59" fill="#fc4e2a"/>
<rect x="553.30" y="880.39" width="35.30" height="3.59" fill="#e31a1c"/>
<rect x="588.60" y="880.39" width="34.40" height="3.59" fill="#feb24c"/>
<rect x="480.50" y="883.93" width="36.40" height="3.59" fill="#fc4e2a"/>
<rect x="516.90" y="883.93" width="36.40" height="3.59" fill="#fc4e2a"/>
<rect x="553.30" y="883.93" width="35.30" height="3.59" fill="#fc4e2a"/>
<rect x="588.60" y="883.93" width="34.40" height="3.59" fill="#feb24c"/>
<rect x="480.50" y="887.48" width="36.40" height="3.59" fill="#fc4e2a"/>
<rect x="516.90" y="887.48" width="36.40" height="3.59" fill="#feb24c"/>
<rect x="553.30" y="887.48" width="35.30" height="3.59" fill="#fc4e2a"/>
<rect x="588.60" y="887.48" width="34.40" height="3.59" fill="#e31a1c"/>
<rect x="480.50" y="891.02" width="36.40" height="3.59" fill="#feb24c"/>
<rect x="516.90" y="891.02" width="36.40" height="3.59" fill="#feb24c"/>
<rect x="553.30" y="891.02" width="35.30" height="3.59" fill="#feb24c"/>
<rect x="588.60" y="891.02" width="34.40" height="3.59" fill="#feb24c"/>
<rect x="480.50" y="894.56" width="36.40" height="3.59" fill="#feb24c"/>
<rect x="516.90" y="894.56" width="36.40" height="3.59" fill="#feb24c"/>
<rect x="553.30" y="894.56" width="35.30" height="3.59" fill="#feb24c"/>
<rect x="588.60" y="894.56" width="34.40" height="3.59" fill="#feb24c"/>
<rect x="480.50" y="898.10" width="36.40" height="3.59" fill="#feb24c"/>
<rect x="516.90" y="898.10" width="36.40" height="3.59" fill="#fd8d3c"/>
<rect x="553.30" y="898.10" width="35.30" height="3.59" fill="#e31a1c"/>
<rect x="588.60" y="898.10" width="34.40" height="3.59" fill="#feb24c"/>
<rect x="480.50" y="901.64" width="36.40" height="3.59" fill="#feb24c"/>
<rect x="516.90" y="901.64" width="36.40" height="3.59" fill="#feb24c"/>
<rect x="553.30" y="901.64" width="35.30" height="3.59" fill="#feb24c"/>
<rect x="588.60" y="901.64" width="34.40" height="3.59" fill="#fd8d3c"/>
<rect x="480.50" y="905.18" width="36.40" height="3.59" fill="#feb24c"/>
<rect x="516.90" y="905.18" width="36.40" height="3.59" fill="#feb24c"/>
<rect x="553.30" y="905.18" width="35.30" height="3.59" fill="#feb24c"/>
<rect x="588.60" y="905.18" width="34.40" height="3.59" fill="#fd8d3c"/>
<rect x="480.50" y="908.72" width="36.40" height="3.59" fill="#feb24c"/>
<rect x="516.90" y="908.72" width="36.40" height="3.59" fill="#fc4e2a"/>
<rect x="553.30" y="908.72" width="35.30" height="3.59" fill="#fc4e2a"/>
<rect x="588.60" y="908.72" width="34.40" height="3.59" fill="#ffeda0"/>
<rect x="480.50" y="912.26" width="36.40" height="3.59" fill="#feb24c"/>
<rect x="516.90" y="912.26" width="36.40" height="3.59" fill="#fed976"/>
<rect x="553.30" y="912.26" width="35.30" height="3.59" fill="#ffeda0"/>
<rect x="588.60" y="912.26" width="34.40" height="3.59" fill="#ffffcc"/>
<rect x="480.50" y="915.80" width="36.40" height="3.59" fill="#fed976"/>
<rect x="516.90" y="915.80" width="36.40" height="3.59" fill="#fed976"/>
<rect x="553.30" y="915.80" width="35.30" height="3.59" fill="#fed976"/>
<rect x="588.60" y="915.80" width="34.40" height="3.59" fill="#ffffff"/>
<rect x="480.50" y="919.34" width="36.40" height="3.59" fill="#fed976"/>
<rect x="516.90" y="919.34" width="36.40" height="3.59" fill="#fd8d3c"/>
<rect x="553.30" y="919.34" width="35.30" height="3.59" fill="#fd8d3c"/>
<rect x="588.60" y="919.34" width="34.40" height="3.59" fill="#ffffff"/>
<rect x="480.50" y="922.89" width="36.40" height="3.59" fill="#fed976"/>
<rect x="516.90" y="922.89" width="36.40" height="3.59" fill="#fc4e2a"/>
<rect x="553.30" y="922.89" width="35.30" height="3.59" fill="#fed976"/>
<rect x="588.60" y="922.89" width="34.40" height="3.59" fill="#ffffff"/>
<rect x="480.50" y="926.43" width="36.40" height="3.59" fill="#fed976"/>
<rect x="516.90" y="926.43" width="36.40" height="3.59" fill="#fed976"/>
<rect x="553.30" y="926.43" width="35.30" height="3.59" fill="#ffeda0"/>
<rect x="588.60" y="926.43" width="34.40" height="3.59" fill="#ffffff"/>
<rect x="480.50" y="929.97" width="36.40" height="3.59" fill="#fed976"/>
<rect x="516.90" y="929.97" width="36.40" height="3.59" fill="#feb24c"/>
<rect x="553.30" y="929.97" width="35.30" height="3.59" fill="#ffeda0"/>
<rect x="588.60" y="929.97" width="34.40" height="3.59" fill="#ffffff"/>
<rect x="480.50" y="933.51" width="36.40" height="3.59" fill="#fed976"/>
<rect x="516.90" y="933.51" width="36.40" height="3.59" fill="#fed976"/>
<rect x="553.30" y="933.51" width="35.30" height="3.59" fill="#fed976"/>
<rect x="588.60" y="933.51" width="34.40" height="3.59" fill="#ffffff"/>
<rect x="480.50" y="937.05" width="36.40" height="3.59" fill="#ffeda0"/>
<rect x="516.90" y="937.05" width="36.40" height="3.59" fill="#fed976"/>
<rect x="553.30" y="937.05" width="35.30" height="3.59" fill="#fed976"/>
<rect x="588.60" y="937.05" width="34.40" height="3.59" fill="#ffffcc"/>
<rect x="480.50" y="940.59" width="36.40" height="3.59" fill="#ffeda0"/>
<rect x="516.90" y="940.59" width="36.40" height="3.59" fill="#fed976"/>
<rect x="553.30" y="940.59" width="35.30" height="3.59" fill="#fed976"/>
<rect x="588.60" y="940.59" width="34.40" height="3.59" fill="#ffffff"/>
<rect x="480.50" y="944.13" width="36.40" height="3.59" fill="#ffeda0"/>
<rect x="516.90" y="944.13" width="36.40" height="3.59" fill="#fed976"/>
<rect x="553.30" y="944.13" width="35.30" height="3.59" fill="#feb24c"/>
<rect x="588.60" y="944.13" width="34.40" height="3.59" fill="#ffffcc"/>
<rect x="480.50" y="947.67" width="36.40" height="3.59" fill="#ffeda0"/>
<rect x="516.90" y="947.67" width="36.40" height="3.59" fill="#fed976"/>
<rect x="553.30" y="947.67" width="35.30" height="3.59" fill="#fed976"/>
<rect x="588.60" y="947.67" width="34.40" height="3.59" fill="#ffffff"/>
<rect x="480.50" y="951.21" width="36.40" height="3.59" fill="#ffeda0"/>
<rect x="516.90" y="951.21" width="36.40" height="3.59" fill="#fed976"/>
<rect x="553.30" y="951.21" width="35.30" height="3.59" fill="#fed976"/>
<rect x="588.60" y="951.21" width="34.40" height="3.59" fill="#ffffcc"/>
<rect x="480.50" y="954.76" width="36.40" height="3.59" fill="#ffeda0"/>
<rect x="516.90" y="954.76" width="36.40" height="3.59" fill="#fd8d3c"/>
<rect x="553.30" y="954.76" width="35.30" height="3.59" fill="#fed976"/>
<rect x="588.60" y="954.76" width="34.40" height="3.59" fill="#ffffff"/>
<rect x="480.50" y="958.30" width="36.40" height="3.59" fill="#ffeda0"/>
<rect x="516.90" y="958.30" width="36.40" height="3.59" fill="#feb24c"/>
<rect x="553.30" y="958.30" width="35.30" height="3.59" fill="#fd8d3c"/>
<rect x="588.60" y="958.30" width="34.40" height="3.59" fill="#ffffcc"/>
<rect x="480.50" y="961.84" width="36.40" height="3.59" fill="#ffeda0"/>
<rect x="516.90" y="961.84" width="36.40" height="3.59" fill="#fed976"/>
<rect x="553.30" y="961.84" width="35.30" height="3.59" fill="#fed976"/>
<rect x="588.60" y="961.84" width="34.40" height="3.59" fill="#ffffcc"/>
<rect x="480.50" y="965.38" width="36.40" height="3.59" fill="#ffeda0"/>
<rect x="516.90" y="965.38" width="36.40" height="3.59" fill="#fed976"/>
<rect x="553.30" y="965.38" width="35.30" height="3.59" fill="#ffeda0"/>
<rect x="588.60" y="965.38" width="34.40" height="3.59" fill="#ffffcc"/>
<rect x="480.50" y="968.92" width="36.40" height="3.59" fill="#ffeda0"/>
<rect x="516.90" y="968.92" width="36.40" height="3.59" fill="#ffffcc"/>
<rect x="553.30" y="968.92" width="35.30" height="3.59" fill="#ffeda0"/>
<rect x="588.60" y="968.92" width="34.40" height="3.59" fill="#ffffcc"/>
<rect x="480.50" y="972.46" width="36.40" height="3.59" fill="#ffeda0"/>
<rect x="516.90" y="972.46" width="36.40" height="3.59" fill="#fd8d3c"/>
<rect x="553.30" y="972.46" width="35.30" height="3.59" fill="#fed976"/>
<rect x="588.60" y="972.46" width="34.40" height="3.59" fill="#ffffcc"/>
<rect x="480.50" y="976.00" width="36.40" height="3.59" fill="#ffeda0"/>
<rect x="516.90" y="976.00" width="36.40" height="3.59" fill="#fed976"/>
<rect x="553.30" y="976.00" width="35.30" height="3.59" fill="#fed976"/>
<rect x="588.60" y="976.00" width="34.40" height="3.59" fill="#ffffff"/>
<rect x="480.50" y="979.54" width="36.40" height="3.59" fill="#ffeda0"/>
<rect x="516.90" y="979.54" width="36.40" height="3.59" fill="#fed976"/>
<rect x="553.30" y="979.54" width="35.30" height="3.59" fill="#fed976"/>
<rect x="588.60" y="979.54" width="34.40" height="3.59" fill="#ffffff"/>
<rect x="480.50" y="983.08" width="36.40" height="3.59" fill="#ffffcc"/>
<rect x="516.90" y="983.08" width="36.40" height="3.59" fill="#ffeda0"/>
<rect x="553.30" y="983.08" width="35.30" height="3.59" fill="#fed976"/>
<rect x="588.60" y="983.08" width="34.40" height="3.59" fill="#ffffff"/>
<rect x="480.50" y="986.62" width="36.40" height="3.59" fill="#ffeda0"/>
<rect x="516.90" y="986.62" width="36.40" height="3.59" fill="#fed976"/>
<rect x="553.30" y="986.62" width="35.30" height="3.59" fill="#fed976"/>
<rect x="588.60" y="986.62" width="34.40" height="3.59" fill="#ffffff"/>
<rect x="480.50" y="990.17" width="36.40" height="3.59" fill="#fd8d3c"/>
<rect x="516.90" y="990.17" width="36.40" height="3.59" fill="#feb24c"/>
<rect x="553.30" y="990.17" width="35.30" height="3.59" fill="#ffeda0"/>
<rect x="588.60" y="990.17" width="34.40" height="3.59" fill="#ffeda0"/>
<rect x="480.50" y="993.71" width="36.40" height="3.59" fill="#fed976"/>
<rect x="516.90" y="993.71" width="36.40" height="3.59" fill="#fed976"/>
<rect x="553.30" y="993.71" width="35.30" height="3.59" fill="#fed976"/>
<rect x="588.60" y="993.71" width="34.40" height="3.59" fill="#ffffff"/>
<rect x="480.50" y="997.25" width="36.40" height="3.59" fill="#feb24c"/>
<rect x="516.90" y="997.25" width="36.40" height="3.59" fill="#ffffff"/>
<rect x="553.30" y="997.25" width="35.30" height="3.59" fill="#ffeda0"/>
<rect x="588.60" y="997.25" width="34.40" height="3.59" fill="#e31a1c"/>
<rect x="480.50" y="1000.79" width="36.40" height="3.59" fill="#fed976"/>
<rect x="516.90" y="1000.79" width="36.40" height="3.59" fill="#fed976"/>
<rect x="553.30" y="1000.79" width="35.30" height="3.59" fill="#fed976"/>
<rect x="588.60" y="1000.79" width="34.40" height="3.59" fill="#feb24c"/>
<rect x="480.50" y="1004.33" width="36.40" height="3.59" fill="#ffeda0"/>
<rect x="516.90" y="1004.33" width="36.40" height="3.59" fill="#ffffff"/>
<rect x="553.30" y="1004.33" width="35.30" height="3.59" fill="#ffffcc"/>
<rect x="588.60" y="1004.33" width="34.40" height="3.59" fill="#fd8d3c"/>
<rect x="480.50" y="1007.87" width="36.40" height="3.59" fill="#ffeda0"/>
<rect x="516.90" y="1007.87" width="36.40" height="3.59" fill="#ffffff"/>
<rect x="553.30" y="1007.87" width="35.30" height="3.59" fill="#ffffcc"/>
<rect x="588.60" y="1007.87" width="34.40" height="3.59" fill="#fd8d3c"/>
<rect x="480.50" y="1011.41" width="36.40" height="3.59" fill="#ffeda0"/>
<rect x="516.90" y="1011.41" width="36.40" height="3.59" fill="#ffffff"/>
<rect x="553.30" y="1011.41" width="35.30" height="3.59" fill="#ffffff"/>
<rect x="588.60" y="1011.41" width="34.40" height="3.59" fill="#ffffff"/>
<rect x="480.50" y="1014.95" width="36.40" height="3.59" fill="#ffeda0"/>
<rect x="516.90" y="1014.95" width="36.40" height="3.59" fill="#ffffff"/>
<rect x="553.30" y="1014.95" width="35.30" height="3.59" fill="#ffffcc"/>
<rect x="588.60" y="1014.95" width="34.40" height="3.59" fill="#fed976"/>
<rect x="480.50" y="1018.49" width="36.40" height="3.59" fill="#ffeda0"/>
<rect x="516.90" y="1018.49" width="36.40" height="3.59" fill="#fed976"/>
<rect x="553.30" y="1018.49" width="35.30" height="3.59" fill="#ffffcc"/>
<rect x="588.60" y="1018.49" width="34.40" height="3.59" fill="#fed976"/>
<rect x="480.50" y="1022.04" width="36.40" height="3.59" fill="#ffeda0"/>
<rect x="516.90" y="1022.04" width="36.40" height="3.59" fill="#fed976"/>
<rect x="553.30" y="1022.04" width="35.30" height="3.59" fill="#ffffcc"/>
<rect x="588.60" y="1022.04" width="34.40" height="3.59" fill="#feb24c"/>
<rect x="480.50" y="1025.58" width="36.40" height="3.59" fill="#ffeda0"/>
<rect x="516.90" y="1025.58" width="36.40" height="3.59" fill="#ffffff"/>
<rect x="553.30" y="1025.58" width="35.30" height="3.59" fill="#ffeda0"/>
<rect x="588.60" y="1025.58" width="34.40" height="3.59" fill="#fed976"/>
<rect x="480.50" y="1029.12" width="36.40" height="3.59" fill="#ffeda0"/>
<rect x="516.90" y="1029.12" width="36.40" height="3.59" fill="#ffffff"/>
<rect x="553.30" y="1029.12" width="35.30" height="3.59" fill="#ffffcc"/>
<rect x="588.60" y="1029.12" width="34.40" height="3.59" fill="#fd8d3c"/>
<rect x="480.50" y="1032.66" width="36.40" height="3.59" fill="#ffeda0"/>
<rect x="516.90" y="1032.66" width="36.40" height="3.59" fill="#ffffcc"/>
<rect x="553.30" y="1032.66" width="35.30" height="3.59" fill="#ffffcc"/>
<rect x="588.60" y="1032.66" width="34.40" height="3.59" fill="#fed976"/>
<line x1="480.50" y1="848.52" x2="623.00" y2="848.52" stroke="#000" stroke-width="0.6" opacity="0.65"/>
<line x1="480.50" y1="852.06" x2="623.00" y2="852.06" stroke="#000" stroke-width="0.6" opacity="0.65"/>
<line x1="480.50" y1="855.61" x2="623.00" y2="855.61" stroke="#000" stroke-width="0.6" opacity="0.65"/>
<line x1="480.50" y1="859.15" x2="623.00" y2="859.15" stroke="#000" stroke-width="0.6" opacity="0.65"/>
<line x1="480.50" y1="862.69" x2="623.00" y2="862.69" stroke="#000" stroke-width="0.6" opacity="0.65"/>
<line x1="480.50" y1="866.23" x2="623.00" y2="866.23" stroke="#000" stroke-width="0.6" opacity="0.65"/>
<line x1="480.50" y1="869.77" x2="623.00" y2="869.77" stroke="#000" stroke-width="0.6" opacity="0.65"/>
<line x1="480.50" y1="873.31" x2="623.00" y2="873.31" stroke="#000" stroke-width="0.6" opacity="0.65"/>
<line x1="480.50" y1="876.85" x2="623.00" y2="876.85" stroke="#000" stroke-width="0.6" opacity="0.65"/>
<line x1="480.50" y1="880.39" x2="623.00" y2="880.39" stroke="#000" stroke-width="0.6" opacity="0.65"/>
<line x1="480.50" y1="883.93" x2="623.00" y2="883.93" stroke="#000" stroke-width="0.6" opacity="0.65"/>
<line x1="480.50" y1="887.48" x2="623.00" y2="887.48" stroke="#000" stroke-width="0.6" opacity="0.65"/>
<line x1="480.50" y1="891.02" x2="623.00" y2="891.02" stroke="#000" stroke-width="0.6" opacity="0.65"/>
<line x1="480.50" y1="894.56" x2="623.00" y2="894.56" stroke="#000" stroke-width="0.6" opacity="0.65"/>
<line x1="480.50" y1="898.10" x2="623.00" y2="898.10" stroke="#000" stroke-width="0.6" opacity="0.65"/>
<line x1="480.50" y1="901.64" x2="623.00" y2="901.64" stroke="#000" stroke-width="0.6" opacity="0.65"/>
<line x1="480.50" y1="905.18" x2="623.00" y2="905.18" stroke="#000" stroke-width="0.6" opacity="0.65"/>
<line x1="480.50" y1="908.72" x2="623.00" y2="908.72" stroke="#000" stroke-width="0.6" opacity="0.65"/>
<line x1="480.50" y1="912.26" x2="623.00" y2="912.26" stroke="#000" stroke-width="0.6" opacity="0.65"/>
<line x1="480.50" y1="915.80" x2="623.00" y2="915.80" stroke="#000" stroke-width="0.6" opacity="0.65"/>
<line x1="480.50" y1="919.34" x2="623.00" y2="919.34" stroke="#000" stroke-width="0.6" opacity="0.65"/>
<line x1="480.50" y1="922.89" x2="623.00" y2="922.89" stroke="#000" stroke-width="0.6" opacity="0.65"/>
<line x1="480.50" y1="926.43" x2="623.00" y2="926.43" stroke="#000" stroke-width="0.6" opacity="0.65"/>
<line x1="480.50" y1="929.97" x2="623.00" y2="929.97" stroke="#000" stroke-width="0.6" opacity="0.65"/>
<line x1="480.50" y1="933.51" x2="623.00" y2="933.51" stroke="#000" stroke-width="0.6" opacity="0.65"/>
<line x1="480.50" y1="937.05" x2="623.00" y2="937.05" stroke="#000" stroke-width="0.6" opacity="0.65"/>
<line x1="480.50" y1="940.59" x2="623.00" y2="940.59" stroke="#000" stroke-width="0.6" opacity="0.65"/>
<line x1="480.50" y1="944.13" x2="623.00" y2="944.13" stroke="#000" stroke-width="0.6" opacity="0.65"/>
<line x1="480.50" y1="947.67" x2="623.00" y2="947.67" stroke="#000" stroke-width="0.6" opacity="0.65"/>
<line x1="480.50" y1="951.21" x2="623.00" y2="951.21" stroke="#000" stroke-width="0.6" opacity="0.65"/>
<line x1="480.50" y1="954.76" x2="623.00" y2="954.76" stroke="#000" stroke-width="0.6" opacity="0.65"/>
<line x1="480.50" y1="958.30" x2="623.00" y2="958.30" stroke="#000" stroke-width="0.6" opacity="0.65"/>
<line x1="480.50" y1="961.84" x2="623.00" y2="961.84" stroke="#000" stroke-width="0.6" opacity="0.65"/>
<line x1="480.50" y1="965.38" x2="623.00" y2="965.38" stroke="#000" stroke-width="0.6" opacity="0.65"/>
<line x1="480.50" y1="968.92" x2="623.00" y2="968.92" stroke="#000" stroke-width="0.6" opacity="0.65"/>
<line x1="480.50" y1="972.46" x2="623.00" y2="972.46" stroke="#000" stroke-width="0.6" opacity="0.65"/>
<line x1="480.50" y1="976.00" x2="623.00" y2="976.00" stroke="#000" stroke-width="0.6" opacity="0.65"/>
<line x1="480.50" y1="979.54" x2="623.00" y2="979.54" stroke="#000" stroke-width="0.6" opacity="0.65"/>
<line x1="480.50" y1="983.08" x2="623.00" y2="983.08" stroke="#000" stroke-width="0.6" opacity="0.65"/>
<line x1="480.50" y1="986.62" x2="623.00" y2="986.62" stroke="#000" stroke-width="0.6" opacity="0.65"/>
<line x1="480.50" y1="990.17" x2="623.00" y2="990.17" stroke="#000" stroke-width="0.6" opacity="0.65"/>
<line x1="480.50" y1="993.71" x2="623.00" y2="993.71" stroke="#000" stroke-width="0.6" opacity="0.65"/>
<line x1="480.50" y1="997.25" x2="623.00" y2="997.25" stroke="#000" stroke-width="0.6" opacity="0.65"/>
<line x1="480.50" y1="1000.79" x2="623.00" y2="1000.79" stroke="#000" stroke-width="0.6" opacity="0.65"/>
<line x1="480.50" y1="1004.33" x2="623.00" y2="1004.33" stroke="#000" stroke-width="0.6" opacity="0.65"/>
<line x1="480.50" y1="1007.87" x2="623.00" y2="1007.87" stroke="#000" stroke-width="0.6" opacity="0.65"/>
<line x1="480.50" y1="1011.41" x2="623.00" y2="1011.41" stroke="#000" stroke-width="0.6" opacity="0.65"/>
<line x1="480.50" y1="1014.95" x2="623.00" y2="1014.95" stroke="#000" stroke-width="0.6" opacity="0.65"/>
<line x1="480.50" y1="1018.49" x2="623.00" y2="1018.49" stroke="#000" stroke-width="0.6" opacity="0.65"/>
<line x1="480.50" y1="1022.04" x2="623.00" y2="1022.04" stroke="#000" stroke-width="0.6" opacity="0.65"/>
<line x1="480.50" y1="1025.58" x2="623.00" y2="1025.58" stroke="#000" stroke-width="0.6" opacity="0.65"/>
<line x1="480.50" y1="1029.12" x2="623.00" y2="1029.12" stroke="#000" stroke-width="0.6" opacity="0.65"/>
<line x1="480.50" y1="1032.66" x2="623.00" y2="1032.66" stroke="#000" stroke-width="0.6" opacity="0.65"/>
<line x1="516.90" y1="837.90" x2="516.90" y2="1036.20" stroke="#000" stroke-width="1.5"/>
<line x1="553.30" y1="837.90" x2="553.30" y2="1036.20" stroke="#000" stroke-width="1.5"/>
<line x1="588.60" y1="837.90" x2="588.60" y2="1036.20" stroke="#000" stroke-width="1.5"/>
<text x="550.60" y="826.90" font-size="10" text-anchor="middle">VAF</text>
<text x="497.20" y="1049.90" font-size="10" text-anchor="middle">Parent</text>
<text x="534.70" y="1049.90" font-size="10" text-anchor="middle">3M</text>
<text x="570.00" y="1049.90" font-size="10" text-anchor="middle">5M</text>
<text x="605.40" y="1049.90" font-size="10" text-anchor="middle">7M</text>
<text x="433.00" y="1049.90" font-size="10.1" fill="#4472c4" text-anchor="middle">Neo-</text>
<text x="432.60" y="1060.90" font-size="10.1" fill="#4472c4" text-anchor="middle">antigen</text>
<text x="469.40" y="876.30" font-size="9.8" text-anchor="middle" transform="rotate(-90 469.4 876.3)">Truncal</text>
<text x="469.40" y="972.00" font-size="9.8" text-anchor="middle" transform="rotate(-90 469.4 972.0)">Branch</text>
<text x="427.90" y="835.80" font-size="10.3" fill="#4472c4" transform="rotate(-90 427.9 835.8)">&#8805; 2&#160; MHC I</text>
<text x="446.30" y="835.80" font-size="10.3" fill="#4472c4" transform="rotate(-90 446.3 835.8)">&#8805; 1&#160; MHC I</text>
<rect x="579.60" y="1059.00" width="4.85" height="14.80" fill="#ffffcc"/>
<rect x="584.40" y="1059.00" width="4.85" height="14.80" fill="#ffeda0"/>
<rect x="589.20" y="1059.00" width="4.85" height="14.80" fill="#fed976"/>
<rect x="594.00" y="1059.00" width="4.85" height="14.80" fill="#feb24c"/>
<rect x="598.80" y="1059.00" width="4.85" height="14.80" fill="#fd8d3c"/>
<rect x="603.60" y="1059.00" width="4.85" height="14.80" fill="#fc4e2a"/>
<rect x="608.40" y="1059.00" width="4.85" height="14.80" fill="#e31a1c"/>
<rect x="613.20" y="1059.00" width="4.85" height="14.80" fill="#bd0026"/>
<rect x="618.00" y="1059.00" width="4.85" height="14.80" fill="#800026"/>
<line x1="579.60" y1="1074.40" x2="622.80" y2="1074.40" stroke="#444" stroke-width="0.7"/>
<line x1="586.20" y1="1074.40" x2="586.20" y2="1076.00" stroke="#444" stroke-width="0.7"/>
<text x="586.20" y="1086.00" font-size="8.2" font-weight="normal" fill="#222" text-anchor="middle">0.2</text>
<line x1="604.60" y1="1074.40" x2="604.60" y2="1076.00" stroke="#444" stroke-width="0.7"/>
<text x="604.60" y="1086.00" font-size="8.2" font-weight="normal" fill="#222" text-anchor="middle">0.6</text>
<line x1="622.30" y1="1074.40" x2="622.30" y2="1076.00" stroke="#444" stroke-width="0.7"/>
<text x="622.30" y="1086.00" font-size="8.2" font-weight="normal" fill="#222" text-anchor="middle">1</text>
</svg>
</body></html>
